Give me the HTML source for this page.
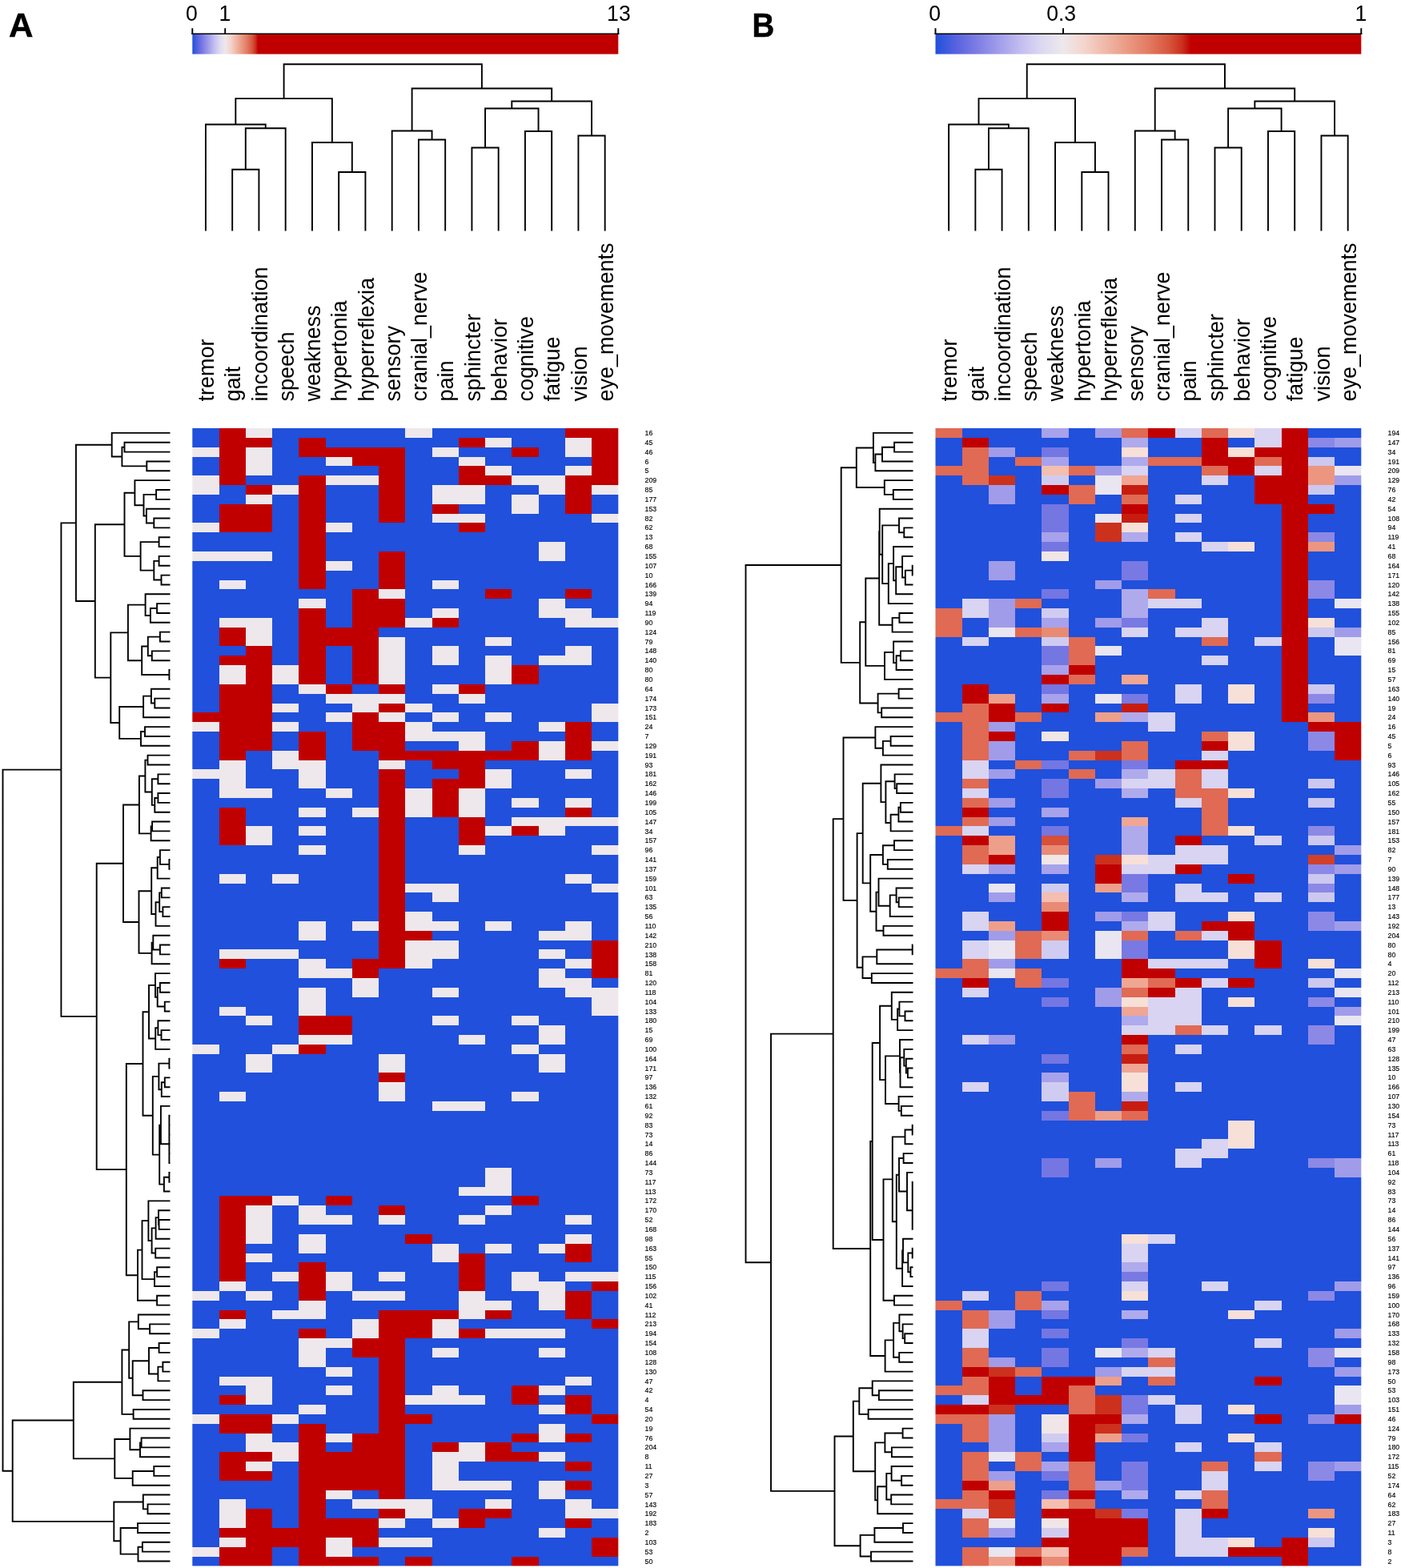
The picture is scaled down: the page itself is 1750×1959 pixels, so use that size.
<!DOCTYPE html>
<html lang="en">
<head>
<meta charset="utf-8">
<title>Clustered symptom heatmaps</title>
<style>
html,body{margin:0;padding:0;background:#fff;}
body{width:1750px;height:1959px;overflow:hidden;}
svg{display:block;font-family:"Liberation Sans",sans-serif;}
</style>
</head>
<body>
<svg width="1750" height="1959" viewBox="0 0 1750 1959">
<rect width="1750" height="1959" fill="#fff"/>
<text x="11" y="46.2" font-size="42.2" font-weight="bold" fill="#000" stroke="#000" stroke-width="0.5">A</text>
<text x="939.4" y="46.2" font-size="42" font-weight="bold" fill="#000" stroke="#000" stroke-width="0.5" textLength="27.8" lengthAdjust="spacingAndGlyphs">B</text>
<defs><linearGradient id="ga" x1="0" x2="1" y1="0" y2="0">
<stop offset="0.0000" stop-color="#2050dc"/>
<stop offset="0.0131" stop-color="#5a64e0"/>
<stop offset="0.0254" stop-color="#7e7ee4"/>
<stop offset="0.0385" stop-color="#a29eea"/>
<stop offset="0.0515" stop-color="#c4bef0"/>
<stop offset="0.0638" stop-color="#dcd8f2"/>
<stop offset="0.0769" stop-color="#eee8ec"/>
<stop offset="0.0900" stop-color="#f4d4cc"/>
<stop offset="0.1023" stop-color="#f0b8a8"/>
<stop offset="0.1154" stop-color="#ea9a84"/>
<stop offset="0.1285" stop-color="#e27a62"/>
<stop offset="0.1408" stop-color="#d6553d"/>
<stop offset="0.1485" stop-color="#ca301e"/>
<stop offset="0.1538" stop-color="#c00000"/>
<stop offset="1.0000" stop-color="#c00000"/>
</linearGradient></defs>
<rect x="240.3" y="42.6" width="532" height="25" fill="url(#ga)"/>
<path d="M239.3 42.2H773.3" fill="none" stroke="#000" stroke-width="1.4"/>
<path d="M240.3 35.2V42.9M281.22 35.2V42.9M772.3 35.2V42.9" fill="none" stroke="#000" stroke-width="1.9"/>
<g font-size="26.6" fill="#000" text-anchor="middle">
<text transform="translate(239.5,25.5) scale(1,1.04)">0</text>
<text transform="translate(280.82,25.5) scale(1,1.04)">1</text>
<text transform="translate(772.9,25.5) scale(1,1.04)">13</text>
</g>
<defs><linearGradient id="gb" x1="0" x2="1" y1="0" y2="0">
<stop offset="0.0000" stop-color="#2050dc"/>
<stop offset="0.0510" stop-color="#5a64e0"/>
<stop offset="0.0990" stop-color="#7e7ee4"/>
<stop offset="0.1500" stop-color="#a29eea"/>
<stop offset="0.2010" stop-color="#c4bef0"/>
<stop offset="0.2490" stop-color="#dcd8f2"/>
<stop offset="0.3000" stop-color="#eee8ec"/>
<stop offset="0.3510" stop-color="#f4d4cc"/>
<stop offset="0.3990" stop-color="#f0b8a8"/>
<stop offset="0.4500" stop-color="#ea9a84"/>
<stop offset="0.5010" stop-color="#e27a62"/>
<stop offset="0.5490" stop-color="#d6553d"/>
<stop offset="0.5790" stop-color="#ca301e"/>
<stop offset="0.6000" stop-color="#c00000"/>
<stop offset="1.0000" stop-color="#c00000"/>
</linearGradient></defs>
<rect x="1168.5" y="42.6" width="531.8" height="25" fill="url(#gb)"/>
<path d="M1167.5 42.2H1701.3" fill="none" stroke="#000" stroke-width="1.4"/>
<path d="M1168.5 35.2V42.9M1328.04 35.2V42.9M1700.3 35.2V42.9" fill="none" stroke="#000" stroke-width="1.9"/>
<g font-size="26.6" fill="#000" text-anchor="middle">
<text transform="translate(1167.7,25.5) scale(1,1.04)">0</text>
<text transform="translate(1325.64,25.5) scale(1,1.04)">0.3</text>
<text transform="translate(1699.9,25.5) scale(1,1.04)">1</text>
</g>
<path d="M290.18 288.5V211.7H323.43V288.5M306.8 211.7V160.3H356.68V288.5M256.93 288.5V155.5H331.74V160.3M423.18 288.5V215H456.43V288.5M389.93 288.5V178H439.8V215M294.33 155.5V123.1H414.86V178M522.92 288.5V174.5H556.17V288.5M489.68 288.5V163.5H539.55V174.5M589.42 288.5V184.5H622.67V288.5M655.92 288.5V164H689.17V288.5M606.05 184.5V135.5H672.55V164M722.42 288.5V169.5H755.67V288.5M639.3 135.5V126.5H739.05V169.5M514.61 163.5V110.5H689.17V126.5M354.6 123.1V80.3H601.89V110.5" fill="none" stroke="#000" stroke-width="1.9" stroke-linejoin="miter"/>
<path d="M1218.36 288.5V211.7H1251.59V288.5M1234.97 211.7V160.3H1284.83V288.5M1185.12 288.5V155.5H1259.9V160.3M1351.31 288.5V215H1384.54V288.5M1318.07 288.5V178H1367.93V215M1222.51 155.5V123.1H1343V178M1451.02 288.5V174.5H1484.26V288.5M1417.78 288.5V163.5H1467.64V174.5M1517.49 288.5V184.5H1550.73V288.5M1583.97 288.5V164H1617.21V288.5M1534.11 184.5V135.5H1600.59V164M1650.44 288.5V169.5H1683.68V288.5M1567.35 135.5V126.5H1667.06V169.5M1442.71 163.5V110.5H1617.21V126.5M1282.75 123.1V80.3H1529.96V110.5" fill="none" stroke="#000" stroke-width="1.9" stroke-linejoin="miter"/>
<g font-size="27" fill="#000">
<text transform="translate(267.12,501.4) rotate(-90) scale(1,1.03)">tremor</text>
<text transform="translate(300.38,501.4) rotate(-90) scale(1,1.03)">gait</text>
<text transform="translate(333.62,501.4) rotate(-90) scale(1,1.03)">incoordination</text>
<text transform="translate(366.88,501.4) rotate(-90) scale(1,1.03)">speech</text>
<text transform="translate(400.12,501.4) rotate(-90) scale(1,1.03)">weakness</text>
<text transform="translate(433.38,501.4) rotate(-90) scale(1,1.03)">hypertonia</text>
<text transform="translate(466.62,501.4) rotate(-90) scale(1,1.03)">hyperreflexia</text>
<text transform="translate(499.88,501.4) rotate(-90) scale(1,1.03)">sensory</text>
<text transform="translate(533.12,501.4) rotate(-90) scale(1,1.03)">cranial_nerve</text>
<text transform="translate(566.38,501.4) rotate(-90) scale(1,1.03)">pain</text>
<text transform="translate(599.62,501.4) rotate(-90) scale(1,1.03)">sphincter</text>
<text transform="translate(632.88,501.4) rotate(-90) scale(1,1.03)">behavior</text>
<text transform="translate(666.12,501.4) rotate(-90) scale(1,1.03)">cognitive</text>
<text transform="translate(699.38,501.4) rotate(-90) scale(1,1.03)">fatigue</text>
<text transform="translate(732.62,501.4) rotate(-90) scale(1,1.03)">vision</text>
<text transform="translate(765.88,501.4) rotate(-90) scale(1,1.03)">eye_movements</text>
</g>
<g font-size="27" fill="#000">
<text transform="translate(1195.32,501.4) rotate(-90) scale(1,1.03)">tremor</text>
<text transform="translate(1228.56,501.4) rotate(-90) scale(1,1.03)">gait</text>
<text transform="translate(1261.79,501.4) rotate(-90) scale(1,1.03)">incoordination</text>
<text transform="translate(1295.03,501.4) rotate(-90) scale(1,1.03)">speech</text>
<text transform="translate(1328.27,501.4) rotate(-90) scale(1,1.03)">weakness</text>
<text transform="translate(1361.51,501.4) rotate(-90) scale(1,1.03)">hypertonia</text>
<text transform="translate(1394.74,501.4) rotate(-90) scale(1,1.03)">hyperreflexia</text>
<text transform="translate(1427.98,501.4) rotate(-90) scale(1,1.03)">sensory</text>
<text transform="translate(1461.22,501.4) rotate(-90) scale(1,1.03)">cranial_nerve</text>
<text transform="translate(1494.46,501.4) rotate(-90) scale(1,1.03)">pain</text>
<text transform="translate(1527.69,501.4) rotate(-90) scale(1,1.03)">sphincter</text>
<text transform="translate(1560.93,501.4) rotate(-90) scale(1,1.03)">behavior</text>
<text transform="translate(1594.17,501.4) rotate(-90) scale(1,1.03)">cognitive</text>
<text transform="translate(1627.41,501.4) rotate(-90) scale(1,1.03)">fatigue</text>
<text transform="translate(1660.64,501.4) rotate(-90) scale(1,1.03)">vision</text>
<text transform="translate(1693.88,501.4) rotate(-90) scale(1,1.03)">eye_movements</text>
</g>
<path d="M212.5 576.46H183.3V588.3H212.5M212.5 552.77H155.5V564.61H212.5M212.5 611.99H195.1V623.84H212.5M212.5 647.53H192.3V659.37H212.5M212.5 671.22H198.6V683.06H212.5M212.5 694.91H198.6V706.75H212.5M212.5 718.6H201.5V730.44H212.5M212.5 754.13H196.1V765.98H212.5M212.5 789.67H199.9V801.51H212.5M212.5 813.36H189.8V825.2H212.5M212.5 837.05H211.4V848.89H212.5M212.5 872.58H193.3V884.43H212.5M212.5 908.12H181V919.96H212.5M212.5 943.65H184.5V955.5H212.5M212.5 967.34H197.4V979.19H212.5M212.5 991.03H197.4V1002.88H212.5M212.5 1026.57H190.1V1038.41H212.5M212.5 1073.95H211.4V1085.79H212.5M212.5 1109.48H201.8V1121.33H212.5M212.5 1133.17H203.4V1145.02H212.5M212.5 1180.55H199.9V1192.4H212.5M212.5 1227.93H199.9V1239.78H212.5M212.5 1251.62H205.8V1263.47H212.5M212.5 1287.16H201.5V1299H212.5M212.5 1322.69H211.4V1334.54H212.5M212.5 1346.38H205.8V1358.23H212.5M212.5 1393.76H211.4V1405.61H212.5M212.5 1417.45H211.4V1429.3H212.5M212.5 1441.14H211.4V1452.99H212.5M212.5 1464.83H211.4V1476.68H212.5M212.5 1524.06H198.6V1535.9H212.5M212.5 1559.59H194.2V1571.44H212.5M212.5 1583.28H196.1V1595.13H212.5M212.5 1618.82H196.1V1630.66H212.5M212.5 1654.35H187.1V1666.2H212.5M212.5 1678.04H198.6V1689.89H212.5M212.5 1701.73H203.4V1713.58H212.5M212.5 1737.27H178.5V1749.11H212.5M212.5 1760.96H166.6V1772.8H212.5M212.5 1796.49H176.6V1808.34H212.5M212.5 1832.03H192.3V1843.87H212.5M212.5 1879.41H184.5V1891.25H212.5M212.5 1903.1H172V1914.94H212.5M212.5 1926.79H177.9V1938.63H212.5M212.5 635.68H182.9V653.45H192.3M196.1 760.06H187.9V777.82H212.5M212.5 860.74H188.9V878.5H193.3M181 914.04H176V931.81H212.5M197.4 996.96H193.3V1014.72H212.5M190.1 1032.49H188.6V1050.26H212.5M212.5 1062.1H199.9V1079.87H211.4M212.5 1168.71H191.3V1186.47H199.9M212.5 1275.31H197.4V1293.08H201.5M205.8 1352.31H201.8V1370.07H212.5M211.4 1470.76H204.9V1488.52H212.5M212.5 1512.21H198V1529.98H198.6M196.1 1589.2H193V1606.97H212.5M212.5 1642.51H172.8V1660.28H187.1M203.4 1707.66H197.4V1725.42H212.5M176.6 1802.41H175V1820.18H212.5M192.3 1837.95H165.7V1855.72H212.5M212.5 1867.56H178.8V1885.33H184.5M177.9 1932.71H172.5V1950.48H212.5M155.5 558.69H152.4V582.38H183.3M198.6 700.83H192.3V724.52H201.5M212.5 742.29H181.6V768.94H187.9M199.9 795.59H184.8V819.28H189.8M188.9 869.62H179.1V896.27H212.5M199.9 1070.99H196.7V1097.64H212.5M201.8 1115.4H199.2V1139.1H203.4M191.3 1177.59H189.6V1204.24H212.5M199.9 1233.86H196.7V1257.55H205.8M197.4 1284.2H194.2V1310.85H212.5M211.4 1399.68H211.4V1423.38H211.4M198 1521.1H194.6V1547.75H212.5M212.5 1784.65H162.4V1811.3H175M212.5 540.92H139.7V570.54H152.4M195.1 617.91H179.5V644.57H182.9M197.4 973.26H189.8V1005.84H193.3M199.2 1127.25H194.5V1156.86H212.5M212.5 1216.09H194V1245.7H196.7M211.4 1328.62H198.4V1361.19H201.8M198.6 1683.97H186V1716.54H197.4M172 1909.02H150.6V1941.59H172.5M212.5 600.15H168.4V631.24H179.5M198.6 677.14H175.6V712.67H192.3M184.8 807.44H177.2V842.97H211.4M211.4 1411.53H211.4V1447.07H211.4M194.6 1534.42H189.6V1565.51H194.2M179.1 882.95H149.2V922.92H176M184.5 949.58H181.4V989.55H189.8M212.5 1381.92H200.9V1429.3H211.4M212.5 1500.37H185.4V1549.97H189.6M186 1700.25H165.7V1743.19H178.5M162.4 1797.97H143.3V1846.83H165.7M178.8 1876.45H142.3V1925.31H150.6M196.7 1084.31H189.2V1142.06H194.5M194 1230.89H186V1297.52H194.2M181.6 755.61H159.9V825.2H177.2M181.4 969.56H173.9V1041.37H188.6M200.9 1405.61H199.2V1479.64H204.9M185.4 1525.17H177.5V1598.09H193M172.8 1651.39H161.2V1721.72H165.7M168.4 615.69H155.5V694.91H175.6M177.5 1561.63H172V1624.74H196.1M161.2 1686.56H152.4V1766.88H166.6M189.2 1113.18H173.5V1190.92H189.6M198.4 1344.9H190.8V1442.62H199.2M159.9 790.41H138.3V902.94H149.2M152.4 1726.72H91.8V1822.4H143.3M173.9 1005.47H154V1152.05H173.5M186 1264.21H178.5V1393.76H190.8M91.8 1774.56H15.7V1900.88H142.3M155.5 655.3H118.8V846.67H138.3M139.7 555.73H94.9V750.99H118.8M178.5 1328.99H157.8V1593.18H172M154 1078.76H120.7V1461.08H157.8M94.9 653.36H76.4V1269.92H120.7M76.4 961.64H3.5V1837.72H15.7" fill="none" stroke="#000" stroke-width="1.9"/>
<path d="M1140.5 552.77H1117.1V564.61H1140.5M1140.5 611.99H1115.8V623.84H1140.5M1140.5 659.37H1129.3V671.22H1140.5M1140.5 706.75H1139.7V718.6H1140.5M1140.5 765.98H1123.4V777.82H1140.5M1140.5 813.36H1124.9V825.2H1140.5M1140.5 860.74H1122.6V872.58H1140.5M1140.5 884.43H1101.2V896.27H1140.5M1140.5 919.96H1112.6V931.81H1140.5M1140.5 979.19H1120.2V991.03H1140.5M1140.5 1002.88H1124.9V1014.72H1140.5M1140.5 1050.26H1117V1062.1H1140.5M1140.5 1073.95H1108.8V1085.79H1140.5M1140.5 1121.33H1122.7V1133.17H1140.5M1140.5 1156.86H1103.5V1168.71H1140.5M1140.5 1180.55H1139.7V1192.4H1140.5M1140.5 1216.09H1088.8V1227.93H1140.5M1140.5 1263.47H1130.5V1275.31H1140.5M1140.5 1334.54H1133.9V1346.38H1140.5M1140.5 1381.92H1125.8V1393.76H1140.5M1140.5 1405.61H1139.7V1417.45H1140.5M1140.5 1441.14H1128.6V1452.99H1140.5M1140.5 1476.68H1139.7V1488.52H1140.5M1140.5 1500.37H1139.7V1512.21H1140.5M1140.5 1524.06H1139.7V1535.9H1140.5M1140.5 1559.59H1139.7V1571.44H1140.5M1140.5 1583.28H1137.4V1595.13H1140.5M1140.5 1618.82H1117V1630.66H1140.5M1140.5 1666.2H1130.2V1678.04H1140.5M1140.5 1689.89H1123.2V1701.73H1140.5M1140.5 1737.27H1097.9V1749.11H1140.5M1140.5 1760.96H1084.6V1772.8H1140.5M1140.5 1784.65H1127.6V1796.49H1140.5M1140.5 1808.34H1113.9V1820.18H1140.5M1140.5 1843.87H1126.1V1855.72H1140.5M1140.5 1867.56H1113.2V1879.41H1140.5M1140.5 1903.1H1128V1914.94H1140.5M1140.5 1938.63H1088V1950.48H1140.5M1117.1 558.69H1102V576.46H1140.5M1140.5 600.15H1104.8V617.91H1115.8M1140.5 647.53H1123V665.29H1129.3M1139.7 712.67H1130.8V730.44H1140.5M1123.4 771.9H1114.6V789.67H1140.5M1124.9 819.28H1119.6V837.05H1140.5M1112.6 925.88H1102.9V943.65H1140.5M1140.5 967.34H1117.6V985.11H1120.2M1124.9 1008.8H1122.4V1026.57H1140.5M1140.5 1109.48H1119.6V1127.25H1122.7M1139.7 1186.47H1095.3V1204.24H1140.5M1140.5 1251.62H1123.4V1269.39H1130.5M1140.5 1322.69H1131.8V1340.46H1133.9M1140.5 1370.07H1122.6V1387.84H1125.8M1139.7 1411.53H1130.5V1429.3H1140.5M1140.5 1654.35H1127.6V1672.12H1130.2M1140.5 1725.42H1089.7V1743.19H1097.9M1140.5 1832.03H1113.6V1849.8H1126.1M1128 1909.02H1092.4V1926.79H1140.5M1102 567.57H1093.4V588.3H1140.5M1140.5 694.91H1127.1V721.56H1130.8M1140.5 801.51H1116.1V828.16H1119.6M1122.6 866.66H1096.6V890.35H1101.2M1140.5 908.12H1093.4V934.77H1102.9M1122.4 1017.68H1112.6V1038.41H1140.5M1117 1056.18H1102.9V1079.87H1108.8M1119.6 1118.37H1111.7V1145.02H1140.5M1123.4 1260.51H1121.1V1287.16H1140.5M1140.5 1310.85H1129.3V1331.58H1131.8M1139.7 1482.6H1139.7V1506.29H1139.7M1139.7 1565.51H1134.3V1589.2H1137.4M1140.5 1642.51H1123.4V1663.24H1127.6M1127.6 1790.57H1105.4V1814.26H1113.9M1140.5 540.92H1090.9V577.94H1093.4M1127.1 708.23H1119.2V742.29H1140.5M1116.1 814.84H1105V848.89H1140.5M1140.5 1097.64H1097.5V1131.69H1111.7M1095.3 1195.36H1077.5V1222.01H1088.8M1140.5 1239.78H1113.8V1273.83H1121.1M1129.3 1321.21H1124.5V1358.23H1140.5M1140.5 1547.75H1128V1577.36H1134.3M1089.7 1734.31H1073.3V1766.88H1084.6M1113.6 1840.91H1107.3V1873.49H1113.2M1092.4 1917.9H1074.6V1944.56H1088M1140.5 683.06H1116.1V725.26H1119.2M1140.5 1299H1124V1339.72H1124.5M1139.7 1494.44H1139.7V1529.98H1139.7M1128 1562.55H1127.1V1606.97H1140.5M1123.4 1652.87H1116.1V1695.81H1123.2M1107.3 1857.2H1096.2V1891.25H1140.5M1116.1 704.16H1109.8V754.13H1140.5M1117.6 976.23H1106.4V1028.05H1112.6M1097.5 1114.66H1094.5V1162.79H1103.5M1140.5 1464.83H1133V1512.21H1139.7M1116.1 1674.34H1105.6V1713.58H1140.5M1090.9 559.43H1069.8V609.03H1104.8M1140.5 955.5H1100.4V1002.14H1106.4M1124 1319.36H1106V1378.96H1122.6M1128.6 1447.07H1123V1488.52H1133M1123 656.41H1102.2V729.15H1109.8M1105.4 1802.42H1093.2V1874.23H1096.2M1140.5 635.68H1098.7V692.78H1102.2M1102.9 1068.03H1087.2V1138.72H1094.5M1098.7 664.23H1098.2V780.78H1114.6M1113.8 1256.8H1099.1V1349.16H1106M1123 1467.79H1119.8V1584.76H1127.1M1073.3 1750.59H1065.8V1838.32H1093.2M1130.5 1420.41H1114.8V1526.28H1119.8M1098.2 722.51H1081.3V831.87H1105M1100.4 978.82H1077.7V1103.37H1087.2M1114.8 1473.35H1103.5V1624.74H1117M1065.8 1794.46H1042.5V1931.23H1074.6M1081.3 777.19H1074.2V878.5H1096.6M1077.7 1041.1H1070.6V1208.68H1077.5M1093.4 921.44H1053.5V1124.89H1070.6M1069.8 584.23H1050.7V827.85H1074.2M1099.1 1302.98H1089.7V1549.04H1103.5M1089.7 1426.01H1087.2V1693.96H1105.6M1053.5 1023.17H1040.7V1559.99H1087.2M1040.7 1291.58H963V1862.84H1042.5M1050.7 706.04H931.5V1577.21H963" fill="none" stroke="#000" stroke-width="1.9"/>
<g>
<rect x="241" y="535" width="531" height="1421" fill="#2050dc"/>
<rect x="240.3" y="535" width="33.7" height="24" fill="#2050dc"/>
<rect x="274" y="535" width="33" height="71" fill="#c00000"/>
<rect x="307" y="535" width="33" height="12" fill="#eee8ec"/>
<rect x="340" y="535" width="166" height="12" fill="#2050dc"/>
<rect x="506" y="535" width="34" height="12" fill="#eee8ec"/>
<rect x="540" y="535" width="166" height="12" fill="#2050dc"/>
<rect x="706" y="535" width="66.3" height="12" fill="#c00000"/>
<rect x="307" y="547" width="33" height="12" fill="#c00000"/>
<rect x="373" y="547" width="34" height="24" fill="#c00000"/>
<rect x="573" y="547" width="33" height="12" fill="#c00000"/>
<rect x="606" y="547" width="33" height="12" fill="#eee8ec"/>
<rect x="706" y="547" width="33" height="24" fill="#eee8ec"/>
<rect x="739" y="547" width="33.3" height="59" fill="#c00000"/>
<rect x="240.3" y="559" width="33.7" height="12" fill="#eee8ec"/>
<rect x="307" y="559" width="33" height="35" fill="#eee8ec"/>
<rect x="407" y="559" width="99" height="12" fill="#c00000"/>
<rect x="540" y="559" width="33" height="12" fill="#eee8ec"/>
<rect x="639" y="559" width="34" height="12" fill="#c00000"/>
<rect x="240.3" y="571" width="33.7" height="23" fill="#2050dc"/>
<rect x="407" y="571" width="33" height="11" fill="#eee8ec"/>
<rect x="440" y="571" width="66" height="11" fill="#c00000"/>
<rect x="573" y="571" width="33" height="11" fill="#eee8ec"/>
<rect x="473" y="582" width="33" height="71" fill="#c00000"/>
<rect x="573" y="582" width="33" height="24" fill="#c00000"/>
<rect x="606" y="582" width="33" height="12" fill="#eee8ec"/>
<rect x="706" y="582" width="33" height="12" fill="#eee8ec"/>
<rect x="240.3" y="594" width="33.7" height="24" fill="#eee8ec"/>
<rect x="373" y="594" width="34" height="142" fill="#c00000"/>
<rect x="407" y="594" width="66" height="12" fill="#eee8ec"/>
<rect x="606" y="594" width="33" height="12" fill="#c00000"/>
<rect x="639" y="594" width="67" height="12" fill="#eee8ec"/>
<rect x="706" y="594" width="33" height="48" fill="#c00000"/>
<rect x="307" y="606" width="33" height="12" fill="#c00000"/>
<rect x="340" y="606" width="33" height="12" fill="#eee8ec"/>
<rect x="540" y="606" width="66" height="24" fill="#eee8ec"/>
<rect x="673" y="606" width="33" height="12" fill="#eee8ec"/>
<rect x="739" y="606" width="33.3" height="12" fill="#eee8ec"/>
<rect x="240.3" y="618" width="33.7" height="35" fill="#2050dc"/>
<rect x="307" y="618" width="33" height="12" fill="#eee8ec"/>
<rect x="639" y="618" width="34" height="24" fill="#eee8ec"/>
<rect x="739" y="618" width="33.3" height="24" fill="#2050dc"/>
<rect x="274" y="630" width="66" height="35" fill="#c00000"/>
<rect x="540" y="630" width="33" height="12" fill="#c00000"/>
<rect x="540" y="642" width="66" height="11" fill="#eee8ec"/>
<rect x="739" y="642" width="33.3" height="11" fill="#eee8ec"/>
<rect x="240.3" y="653" width="33.7" height="12" fill="#eee8ec"/>
<rect x="407" y="653" width="33" height="12" fill="#eee8ec"/>
<rect x="573" y="653" width="33" height="12" fill="#c00000"/>
<rect x="739" y="653" width="33.3" height="119" fill="#2050dc"/>
<rect x="240.3" y="665" width="33.7" height="24" fill="#2050dc"/>
<rect x="673" y="677" width="33" height="24" fill="#eee8ec"/>
<rect x="240.3" y="689" width="99.7" height="12" fill="#eee8ec"/>
<rect x="473" y="689" width="33" height="47" fill="#c00000"/>
<rect x="240.3" y="701" width="33.7" height="189" fill="#2050dc"/>
<rect x="407" y="701" width="33" height="12" fill="#eee8ec"/>
<rect x="274" y="725" width="33" height="11" fill="#eee8ec"/>
<rect x="540" y="725" width="33" height="11" fill="#eee8ec"/>
<rect x="440" y="736" width="33" height="119" fill="#c00000"/>
<rect x="473" y="736" width="33" height="12" fill="#eee8ec"/>
<rect x="606" y="736" width="33" height="12" fill="#c00000"/>
<rect x="706" y="736" width="33" height="12" fill="#c00000"/>
<rect x="373" y="748" width="34" height="12" fill="#eee8ec"/>
<rect x="473" y="748" width="33" height="36" fill="#c00000"/>
<rect x="673" y="748" width="33" height="24" fill="#eee8ec"/>
<rect x="373" y="760" width="34" height="95" fill="#c00000"/>
<rect x="540" y="760" width="33" height="12" fill="#eee8ec"/>
<rect x="706" y="760" width="33" height="24" fill="#eee8ec"/>
<rect x="274" y="772" width="66" height="12" fill="#eee8ec"/>
<rect x="506" y="772" width="34" height="12" fill="#eee8ec"/>
<rect x="540" y="772" width="33" height="12" fill="#c00000"/>
<rect x="739" y="772" width="33.3" height="12" fill="#eee8ec"/>
<rect x="274" y="784" width="33" height="23" fill="#c00000"/>
<rect x="307" y="784" width="33" height="23" fill="#eee8ec"/>
<rect x="407" y="784" width="33" height="23" fill="#c00000"/>
<rect x="739" y="784" width="33.3" height="95" fill="#2050dc"/>
<rect x="473" y="796" width="33" height="59" fill="#eee8ec"/>
<rect x="606" y="796" width="33" height="11" fill="#eee8ec"/>
<rect x="307" y="807" width="33" height="131" fill="#c00000"/>
<rect x="540" y="807" width="33" height="24" fill="#eee8ec"/>
<rect x="706" y="807" width="33" height="24" fill="#eee8ec"/>
<rect x="274" y="819" width="33" height="12" fill="#c00000"/>
<rect x="606" y="819" width="33" height="36" fill="#eee8ec"/>
<rect x="673" y="819" width="33" height="12" fill="#eee8ec"/>
<rect x="274" y="831" width="33" height="24" fill="#eee8ec"/>
<rect x="340" y="831" width="33" height="24" fill="#eee8ec"/>
<rect x="639" y="831" width="34" height="24" fill="#c00000"/>
<rect x="274" y="855" width="33" height="95" fill="#c00000"/>
<rect x="373" y="855" width="34" height="12" fill="#eee8ec"/>
<rect x="407" y="855" width="33" height="12" fill="#c00000"/>
<rect x="473" y="855" width="33" height="12" fill="#c00000"/>
<rect x="540" y="855" width="33" height="12" fill="#eee8ec"/>
<rect x="573" y="855" width="33" height="12" fill="#c00000"/>
<rect x="407" y="867" width="99" height="12" fill="#eee8ec"/>
<rect x="573" y="867" width="33" height="12" fill="#eee8ec"/>
<rect x="340" y="879" width="33" height="11" fill="#eee8ec"/>
<rect x="440" y="879" width="33" height="11" fill="#eee8ec"/>
<rect x="473" y="879" width="33" height="11" fill="#c00000"/>
<rect x="506" y="879" width="34" height="11" fill="#eee8ec"/>
<rect x="739" y="879" width="33.3" height="23" fill="#eee8ec"/>
<rect x="240.3" y="890" width="33.7" height="12" fill="#c00000"/>
<rect x="407" y="890" width="33" height="12" fill="#eee8ec"/>
<rect x="440" y="890" width="33" height="48" fill="#c00000"/>
<rect x="473" y="890" width="33" height="12" fill="#eee8ec"/>
<rect x="540" y="890" width="33" height="12" fill="#eee8ec"/>
<rect x="606" y="890" width="33" height="12" fill="#eee8ec"/>
<rect x="240.3" y="902" width="33.7" height="12" fill="#eee8ec"/>
<rect x="340" y="902" width="33" height="12" fill="#eee8ec"/>
<rect x="473" y="902" width="33" height="48" fill="#c00000"/>
<rect x="506" y="902" width="34" height="24" fill="#eee8ec"/>
<rect x="673" y="902" width="33" height="12" fill="#eee8ec"/>
<rect x="706" y="902" width="33" height="48" fill="#c00000"/>
<rect x="739" y="902" width="33.3" height="24" fill="#2050dc"/>
<rect x="240.3" y="914" width="33.7" height="47" fill="#2050dc"/>
<rect x="373" y="914" width="34" height="36" fill="#c00000"/>
<rect x="540" y="914" width="66" height="12" fill="#eee8ec"/>
<rect x="573" y="926" width="33" height="12" fill="#eee8ec"/>
<rect x="639" y="926" width="34" height="24" fill="#c00000"/>
<rect x="673" y="926" width="33" height="24" fill="#eee8ec"/>
<rect x="739" y="926" width="33.3" height="12" fill="#eee8ec"/>
<rect x="340" y="938" width="33" height="23" fill="#eee8ec"/>
<rect x="506" y="938" width="133" height="12" fill="#c00000"/>
<rect x="739" y="938" width="33.3" height="83" fill="#2050dc"/>
<rect x="274" y="950" width="33" height="47" fill="#eee8ec"/>
<rect x="373" y="950" width="34" height="35" fill="#eee8ec"/>
<rect x="473" y="950" width="33" height="11" fill="#eee8ec"/>
<rect x="540" y="950" width="66" height="11" fill="#c00000"/>
<rect x="240.3" y="961" width="33.7" height="12" fill="#eee8ec"/>
<rect x="473" y="961" width="33" height="249" fill="#c00000"/>
<rect x="573" y="961" width="33" height="24" fill="#c00000"/>
<rect x="606" y="961" width="33" height="24" fill="#eee8ec"/>
<rect x="706" y="961" width="33" height="12" fill="#eee8ec"/>
<rect x="240.3" y="973" width="33.7" height="332" fill="#2050dc"/>
<rect x="540" y="973" width="33" height="48" fill="#c00000"/>
<rect x="307" y="985" width="33" height="12" fill="#eee8ec"/>
<rect x="407" y="985" width="33" height="12" fill="#eee8ec"/>
<rect x="506" y="985" width="34" height="36" fill="#eee8ec"/>
<rect x="573" y="985" width="33" height="36" fill="#eee8ec"/>
<rect x="639" y="997" width="34" height="12" fill="#eee8ec"/>
<rect x="706" y="997" width="33" height="12" fill="#eee8ec"/>
<rect x="274" y="1009" width="33" height="47" fill="#c00000"/>
<rect x="373" y="1009" width="34" height="12" fill="#eee8ec"/>
<rect x="440" y="1009" width="33" height="12" fill="#eee8ec"/>
<rect x="706" y="1009" width="33" height="12" fill="#c00000"/>
<rect x="573" y="1021" width="33" height="35" fill="#c00000"/>
<rect x="639" y="1021" width="133.3" height="11" fill="#eee8ec"/>
<rect x="307" y="1032" width="33" height="24" fill="#eee8ec"/>
<rect x="373" y="1032" width="34" height="12" fill="#eee8ec"/>
<rect x="606" y="1032" width="33" height="12" fill="#eee8ec"/>
<rect x="639" y="1032" width="34" height="12" fill="#c00000"/>
<rect x="673" y="1032" width="33" height="12" fill="#eee8ec"/>
<rect x="739" y="1032" width="33.3" height="24" fill="#2050dc"/>
<rect x="373" y="1056" width="34" height="12" fill="#eee8ec"/>
<rect x="573" y="1056" width="33" height="12" fill="#eee8ec"/>
<rect x="739" y="1056" width="33.3" height="12" fill="#eee8ec"/>
<rect x="739" y="1068" width="33.3" height="36" fill="#2050dc"/>
<rect x="274" y="1092" width="33" height="12" fill="#eee8ec"/>
<rect x="340" y="1092" width="33" height="12" fill="#eee8ec"/>
<rect x="706" y="1092" width="33" height="12" fill="#eee8ec"/>
<rect x="506" y="1104" width="67" height="11" fill="#eee8ec"/>
<rect x="739" y="1104" width="33.3" height="11" fill="#eee8ec"/>
<rect x="540" y="1115" width="33" height="12" fill="#eee8ec"/>
<rect x="739" y="1115" width="33.3" height="60" fill="#2050dc"/>
<rect x="506" y="1139" width="34" height="24" fill="#eee8ec"/>
<rect x="373" y="1151" width="34" height="24" fill="#eee8ec"/>
<rect x="440" y="1151" width="33" height="12" fill="#eee8ec"/>
<rect x="540" y="1151" width="33" height="12" fill="#eee8ec"/>
<rect x="606" y="1151" width="33" height="12" fill="#eee8ec"/>
<rect x="706" y="1151" width="33" height="24" fill="#eee8ec"/>
<rect x="506" y="1163" width="34" height="12" fill="#c00000"/>
<rect x="673" y="1163" width="33" height="12" fill="#eee8ec"/>
<rect x="506" y="1175" width="67" height="23" fill="#eee8ec"/>
<rect x="739" y="1175" width="33.3" height="47" fill="#c00000"/>
<rect x="274" y="1186" width="99" height="12" fill="#eee8ec"/>
<rect x="673" y="1186" width="33" height="12" fill="#eee8ec"/>
<rect x="274" y="1198" width="33" height="12" fill="#c00000"/>
<rect x="373" y="1198" width="34" height="24" fill="#eee8ec"/>
<rect x="440" y="1198" width="33" height="24" fill="#c00000"/>
<rect x="506" y="1198" width="34" height="12" fill="#eee8ec"/>
<rect x="706" y="1198" width="33" height="12" fill="#eee8ec"/>
<rect x="407" y="1210" width="33" height="12" fill="#eee8ec"/>
<rect x="673" y="1210" width="33" height="24" fill="#eee8ec"/>
<rect x="440" y="1222" width="33" height="24" fill="#eee8ec"/>
<rect x="706" y="1222" width="33" height="24" fill="#eee8ec"/>
<rect x="739" y="1222" width="33.3" height="12" fill="#2050dc"/>
<rect x="373" y="1234" width="34" height="35" fill="#eee8ec"/>
<rect x="540" y="1234" width="33" height="12" fill="#eee8ec"/>
<rect x="739" y="1234" width="33.3" height="35" fill="#eee8ec"/>
<rect x="274" y="1258" width="33" height="11" fill="#eee8ec"/>
<rect x="307" y="1269" width="33" height="12" fill="#eee8ec"/>
<rect x="373" y="1269" width="67" height="24" fill="#c00000"/>
<rect x="540" y="1269" width="33" height="12" fill="#eee8ec"/>
<rect x="639" y="1269" width="34" height="12" fill="#eee8ec"/>
<rect x="739" y="1269" width="33.3" height="320" fill="#2050dc"/>
<rect x="673" y="1281" width="33" height="24" fill="#eee8ec"/>
<rect x="373" y="1293" width="67" height="12" fill="#eee8ec"/>
<rect x="573" y="1293" width="33" height="12" fill="#eee8ec"/>
<rect x="240.3" y="1305" width="33.7" height="12" fill="#eee8ec"/>
<rect x="340" y="1305" width="33" height="12" fill="#eee8ec"/>
<rect x="373" y="1305" width="34" height="12" fill="#c00000"/>
<rect x="639" y="1305" width="34" height="12" fill="#eee8ec"/>
<rect x="240.3" y="1317" width="33.7" height="296" fill="#2050dc"/>
<rect x="307" y="1317" width="33" height="23" fill="#eee8ec"/>
<rect x="473" y="1317" width="33" height="23" fill="#eee8ec"/>
<rect x="673" y="1317" width="33" height="23" fill="#eee8ec"/>
<rect x="473" y="1340" width="33" height="12" fill="#c00000"/>
<rect x="473" y="1352" width="33" height="24" fill="#eee8ec"/>
<rect x="274" y="1364" width="33" height="12" fill="#eee8ec"/>
<rect x="639" y="1364" width="34" height="12" fill="#eee8ec"/>
<rect x="540" y="1376" width="66" height="12" fill="#eee8ec"/>
<rect x="606" y="1459" width="33" height="35" fill="#eee8ec"/>
<rect x="573" y="1483" width="33" height="11" fill="#eee8ec"/>
<rect x="274" y="1494" width="66" height="12" fill="#c00000"/>
<rect x="340" y="1494" width="33" height="12" fill="#eee8ec"/>
<rect x="407" y="1494" width="33" height="12" fill="#c00000"/>
<rect x="639" y="1494" width="34" height="12" fill="#c00000"/>
<rect x="274" y="1506" width="33" height="95" fill="#c00000"/>
<rect x="307" y="1506" width="33" height="48" fill="#eee8ec"/>
<rect x="373" y="1506" width="34" height="24" fill="#eee8ec"/>
<rect x="473" y="1506" width="33" height="12" fill="#c00000"/>
<rect x="606" y="1506" width="33" height="12" fill="#eee8ec"/>
<rect x="407" y="1518" width="33" height="12" fill="#eee8ec"/>
<rect x="473" y="1518" width="33" height="12" fill="#eee8ec"/>
<rect x="573" y="1518" width="33" height="12" fill="#eee8ec"/>
<rect x="706" y="1518" width="33" height="12" fill="#eee8ec"/>
<rect x="373" y="1542" width="34" height="24" fill="#eee8ec"/>
<rect x="506" y="1542" width="34" height="12" fill="#c00000"/>
<rect x="706" y="1542" width="33" height="12" fill="#eee8ec"/>
<rect x="540" y="1554" width="33" height="23" fill="#eee8ec"/>
<rect x="606" y="1554" width="33" height="12" fill="#eee8ec"/>
<rect x="673" y="1554" width="33" height="12" fill="#eee8ec"/>
<rect x="706" y="1554" width="33" height="23" fill="#c00000"/>
<rect x="307" y="1566" width="33" height="11" fill="#eee8ec"/>
<rect x="573" y="1566" width="33" height="47" fill="#c00000"/>
<rect x="373" y="1577" width="34" height="48" fill="#c00000"/>
<rect x="340" y="1589" width="33" height="12" fill="#eee8ec"/>
<rect x="407" y="1589" width="33" height="24" fill="#eee8ec"/>
<rect x="473" y="1589" width="33" height="12" fill="#eee8ec"/>
<rect x="639" y="1589" width="34" height="24" fill="#eee8ec"/>
<rect x="706" y="1589" width="66.3" height="12" fill="#eee8ec"/>
<rect x="274" y="1601" width="33" height="12" fill="#eee8ec"/>
<rect x="673" y="1601" width="33" height="36" fill="#eee8ec"/>
<rect x="739" y="1601" width="33.3" height="12" fill="#c00000"/>
<rect x="240.3" y="1613" width="33.7" height="12" fill="#eee8ec"/>
<rect x="307" y="1613" width="33" height="12" fill="#eee8ec"/>
<rect x="440" y="1613" width="66" height="12" fill="#eee8ec"/>
<rect x="573" y="1613" width="33" height="35" fill="#eee8ec"/>
<rect x="706" y="1613" width="33" height="35" fill="#c00000"/>
<rect x="739" y="1613" width="33.3" height="35" fill="#2050dc"/>
<rect x="240.3" y="1625" width="33.7" height="35" fill="#2050dc"/>
<rect x="373" y="1625" width="34" height="23" fill="#eee8ec"/>
<rect x="606" y="1625" width="33" height="12" fill="#eee8ec"/>
<rect x="274" y="1637" width="33" height="11" fill="#c00000"/>
<rect x="340" y="1637" width="33" height="11" fill="#eee8ec"/>
<rect x="473" y="1637" width="100" height="11" fill="#c00000"/>
<rect x="606" y="1637" width="33" height="11" fill="#c00000"/>
<rect x="274" y="1648" width="33" height="12" fill="#eee8ec"/>
<rect x="440" y="1648" width="33" height="24" fill="#eee8ec"/>
<rect x="473" y="1648" width="67" height="24" fill="#c00000"/>
<rect x="540" y="1648" width="33" height="24" fill="#eee8ec"/>
<rect x="739" y="1648" width="33.3" height="12" fill="#c00000"/>
<rect x="240.3" y="1660" width="33.7" height="12" fill="#eee8ec"/>
<rect x="373" y="1660" width="34" height="12" fill="#c00000"/>
<rect x="573" y="1660" width="33" height="12" fill="#c00000"/>
<rect x="606" y="1660" width="100" height="12" fill="#eee8ec"/>
<rect x="739" y="1660" width="33.3" height="107" fill="#2050dc"/>
<rect x="240.3" y="1672" width="33.7" height="95" fill="#2050dc"/>
<rect x="373" y="1672" width="67" height="12" fill="#eee8ec"/>
<rect x="440" y="1672" width="66" height="24" fill="#c00000"/>
<rect x="373" y="1684" width="34" height="24" fill="#eee8ec"/>
<rect x="540" y="1684" width="33" height="12" fill="#eee8ec"/>
<rect x="673" y="1684" width="33" height="12" fill="#eee8ec"/>
<rect x="473" y="1696" width="33" height="177" fill="#c00000"/>
<rect x="407" y="1708" width="33" height="12" fill="#eee8ec"/>
<rect x="274" y="1720" width="66" height="11" fill="#eee8ec"/>
<rect x="706" y="1720" width="33" height="11" fill="#eee8ec"/>
<rect x="307" y="1731" width="33" height="24" fill="#eee8ec"/>
<rect x="407" y="1731" width="33" height="12" fill="#eee8ec"/>
<rect x="540" y="1731" width="33" height="24" fill="#eee8ec"/>
<rect x="639" y="1731" width="34" height="24" fill="#c00000"/>
<rect x="673" y="1731" width="33" height="12" fill="#eee8ec"/>
<rect x="274" y="1743" width="33" height="12" fill="#c00000"/>
<rect x="506" y="1743" width="34" height="12" fill="#eee8ec"/>
<rect x="573" y="1743" width="33" height="12" fill="#eee8ec"/>
<rect x="706" y="1743" width="33" height="24" fill="#c00000"/>
<rect x="373" y="1755" width="34" height="12" fill="#eee8ec"/>
<rect x="673" y="1755" width="33" height="12" fill="#eee8ec"/>
<rect x="240.3" y="1767" width="33.7" height="12" fill="#eee8ec"/>
<rect x="274" y="1767" width="66" height="24" fill="#c00000"/>
<rect x="340" y="1767" width="33" height="12" fill="#eee8ec"/>
<rect x="506" y="1767" width="34" height="12" fill="#c00000"/>
<rect x="739" y="1767" width="33.3" height="12" fill="#c00000"/>
<rect x="240.3" y="1779" width="33.7" height="154" fill="#2050dc"/>
<rect x="373" y="1779" width="34" height="177.4" fill="#c00000"/>
<rect x="673" y="1779" width="33" height="23" fill="#eee8ec"/>
<rect x="739" y="1779" width="33.3" height="106" fill="#2050dc"/>
<rect x="307" y="1791" width="33" height="23" fill="#eee8ec"/>
<rect x="407" y="1791" width="33" height="11" fill="#eee8ec"/>
<rect x="440" y="1791" width="33" height="71" fill="#c00000"/>
<rect x="639" y="1791" width="34" height="11" fill="#c00000"/>
<rect x="706" y="1791" width="33" height="11" fill="#c00000"/>
<rect x="340" y="1802" width="33" height="24" fill="#eee8ec"/>
<rect x="540" y="1802" width="33" height="12" fill="#c00000"/>
<rect x="573" y="1802" width="33" height="24" fill="#eee8ec"/>
<rect x="606" y="1802" width="33" height="24" fill="#c00000"/>
<rect x="274" y="1814" width="66" height="12" fill="#c00000"/>
<rect x="407" y="1814" width="33" height="48" fill="#c00000"/>
<rect x="540" y="1814" width="33" height="48" fill="#eee8ec"/>
<rect x="639" y="1814" width="34" height="12" fill="#c00000"/>
<rect x="673" y="1814" width="33" height="12" fill="#eee8ec"/>
<rect x="274" y="1826" width="33" height="24" fill="#c00000"/>
<rect x="307" y="1826" width="33" height="12" fill="#eee8ec"/>
<rect x="706" y="1826" width="33" height="12" fill="#c00000"/>
<rect x="307" y="1838" width="33" height="12" fill="#c00000"/>
<rect x="573" y="1850" width="66" height="12" fill="#eee8ec"/>
<rect x="673" y="1850" width="33" height="23" fill="#eee8ec"/>
<rect x="706" y="1850" width="33" height="12" fill="#c00000"/>
<rect x="407" y="1862" width="33" height="11" fill="#eee8ec"/>
<rect x="274" y="1873" width="33" height="36" fill="#eee8ec"/>
<rect x="440" y="1873" width="100" height="12" fill="#eee8ec"/>
<rect x="606" y="1873" width="33" height="12" fill="#eee8ec"/>
<rect x="706" y="1873" width="33" height="24" fill="#eee8ec"/>
<rect x="307" y="1885" width="33" height="71.4" fill="#c00000"/>
<rect x="473" y="1885" width="33" height="12" fill="#c00000"/>
<rect x="506" y="1885" width="34" height="12" fill="#eee8ec"/>
<rect x="573" y="1885" width="66" height="12" fill="#c00000"/>
<rect x="739" y="1885" width="33.3" height="12" fill="#eee8ec"/>
<rect x="407" y="1897" width="66" height="24" fill="#c00000"/>
<rect x="473" y="1897" width="33" height="12" fill="#eee8ec"/>
<rect x="540" y="1897" width="33" height="12" fill="#eee8ec"/>
<rect x="573" y="1897" width="33" height="12" fill="#c00000"/>
<rect x="706" y="1897" width="33" height="12" fill="#c00000"/>
<rect x="739" y="1897" width="33.3" height="24" fill="#2050dc"/>
<rect x="274" y="1909" width="33" height="12" fill="#c00000"/>
<rect x="340" y="1909" width="33" height="24" fill="#c00000"/>
<rect x="673" y="1909" width="33" height="12" fill="#eee8ec"/>
<rect x="274" y="1921" width="33" height="12" fill="#eee8ec"/>
<rect x="407" y="1921" width="33" height="24" fill="#eee8ec"/>
<rect x="440" y="1921" width="33" height="12" fill="#c00000"/>
<rect x="473" y="1921" width="67" height="12" fill="#eee8ec"/>
<rect x="739" y="1921" width="33.3" height="24" fill="#c00000"/>
<rect x="240.3" y="1933" width="33.7" height="12" fill="#eee8ec"/>
<rect x="274" y="1933" width="33" height="23.4" fill="#c00000"/>
<rect x="240.3" y="1945" width="33.7" height="11.4" fill="#2050dc"/>
<rect x="340" y="1945" width="33" height="11.4" fill="#2050dc"/>
<rect x="407" y="1945" width="66" height="11.4" fill="#c00000"/>
<rect x="473" y="1945" width="33" height="11.4" fill="#2050dc"/>
<rect x="506" y="1945" width="34" height="11.4" fill="#c00000"/>
<rect x="540" y="1945" width="99" height="11.4" fill="#2050dc"/>
<rect x="639" y="1945" width="34" height="11.4" fill="#c00000"/>
<rect x="673" y="1945" width="99.3" height="11.4" fill="#2050dc"/>
</g>
<g>
<rect x="1169" y="535" width="531" height="1421" fill="#2050dc"/>
<rect x="1168.5" y="535" width="33.5" height="12" fill="#e06a54"/>
<rect x="1202" y="535" width="99" height="12" fill="#2050dc"/>
<rect x="1301" y="535" width="34" height="12" fill="#a7a2eb"/>
<rect x="1335" y="535" width="33" height="12" fill="#2050dc"/>
<rect x="1368" y="535" width="33" height="12" fill="#a09cea"/>
<rect x="1401" y="535" width="33" height="12" fill="#e06a54"/>
<rect x="1434" y="535" width="34" height="12" fill="#c00000"/>
<rect x="1468" y="535" width="33" height="12" fill="#d8d4f2"/>
<rect x="1501" y="535" width="33" height="12" fill="#e06a54"/>
<rect x="1534" y="535" width="33" height="12" fill="#f6e0d8"/>
<rect x="1567" y="535" width="34" height="24" fill="#d8d4f2"/>
<rect x="1601" y="535" width="33" height="367" fill="#c00000"/>
<rect x="1634" y="535" width="66.3" height="12" fill="#2050dc"/>
<rect x="1168.5" y="547" width="33.5" height="35" fill="#2050dc"/>
<rect x="1202" y="547" width="33" height="12" fill="#c00000"/>
<rect x="1401" y="547" width="33" height="12" fill="#afaaec"/>
<rect x="1501" y="547" width="33" height="35" fill="#c00000"/>
<rect x="1634" y="547" width="33" height="12" fill="#8c88e6"/>
<rect x="1667" y="547" width="33.3" height="12" fill="#a09cea"/>
<rect x="1202" y="559" width="33" height="47" fill="#e06a54"/>
<rect x="1235" y="559" width="33" height="12" fill="#a09cea"/>
<rect x="1301" y="559" width="34" height="12" fill="#7476e2"/>
<rect x="1401" y="559" width="33" height="12" fill="#f6e0d8"/>
<rect x="1534" y="559" width="33" height="12" fill="#f6e0d8"/>
<rect x="1567" y="559" width="34" height="12" fill="#c00000"/>
<rect x="1667" y="559" width="33.3" height="23" fill="#2050dc"/>
<rect x="1268" y="571" width="33" height="11" fill="#e06a54"/>
<rect x="1301" y="571" width="34" height="11" fill="#a7a2eb"/>
<rect x="1401" y="571" width="33" height="11" fill="#afaaec"/>
<rect x="1434" y="571" width="67" height="11" fill="#e06a54"/>
<rect x="1534" y="571" width="33" height="23" fill="#c00000"/>
<rect x="1567" y="571" width="34" height="11" fill="#e06a54"/>
<rect x="1634" y="571" width="33" height="11" fill="#ccc8f0"/>
<rect x="1168.5" y="582" width="33.5" height="12" fill="#e06a54"/>
<rect x="1301" y="582" width="34" height="12" fill="#f4beb0"/>
<rect x="1335" y="582" width="33" height="12" fill="#e06a54"/>
<rect x="1368" y="582" width="33" height="12" fill="#a09cea"/>
<rect x="1401" y="582" width="33" height="12" fill="#d8d4f2"/>
<rect x="1501" y="582" width="33" height="12" fill="#e06a54"/>
<rect x="1567" y="582" width="34" height="12" fill="#d8d4f2"/>
<rect x="1634" y="582" width="33" height="24" fill="#ec9681"/>
<rect x="1667" y="582" width="33.3" height="12" fill="#e9e6f1"/>
<rect x="1168.5" y="594" width="33.5" height="166" fill="#2050dc"/>
<rect x="1235" y="594" width="33" height="12" fill="#cc311e"/>
<rect x="1301" y="594" width="34" height="12" fill="#d0ccf1"/>
<rect x="1368" y="594" width="33" height="24" fill="#e9e6f1"/>
<rect x="1401" y="594" width="33" height="12" fill="#f0a693"/>
<rect x="1501" y="594" width="33" height="12" fill="#d8d4f2"/>
<rect x="1567" y="594" width="34" height="36" fill="#c00000"/>
<rect x="1667" y="594" width="33.3" height="12" fill="#a09cea"/>
<rect x="1235" y="606" width="33" height="24" fill="#a09cea"/>
<rect x="1301" y="606" width="34" height="12" fill="#c00000"/>
<rect x="1335" y="606" width="33" height="24" fill="#e06a54"/>
<rect x="1401" y="606" width="33" height="12" fill="#c71d11"/>
<rect x="1634" y="606" width="33" height="12" fill="#ccc8f0"/>
<rect x="1667" y="606" width="33.3" height="142" fill="#2050dc"/>
<rect x="1401" y="618" width="33" height="12" fill="#e06a54"/>
<rect x="1468" y="618" width="33" height="12" fill="#d8d4f2"/>
<rect x="1301" y="630" width="34" height="35" fill="#7476e2"/>
<rect x="1401" y="630" width="33" height="12" fill="#c00000"/>
<rect x="1634" y="630" width="33" height="12" fill="#c00000"/>
<rect x="1368" y="642" width="33" height="11" fill="#e9e6f1"/>
<rect x="1401" y="642" width="33" height="11" fill="#c71d11"/>
<rect x="1468" y="642" width="33" height="11" fill="#d8d4f2"/>
<rect x="1368" y="653" width="33" height="24" fill="#cc311e"/>
<rect x="1401" y="653" width="33" height="12" fill="#f6e0d8"/>
<rect x="1301" y="665" width="34" height="12" fill="#a7a2eb"/>
<rect x="1401" y="665" width="33" height="12" fill="#afaaec"/>
<rect x="1468" y="665" width="33" height="12" fill="#d8d4f2"/>
<rect x="1634" y="665" width="33" height="12" fill="#8c88e6"/>
<rect x="1301" y="677" width="34" height="12" fill="#7476e2"/>
<rect x="1501" y="677" width="33" height="12" fill="#d8d4f2"/>
<rect x="1534" y="677" width="33" height="12" fill="#f6e0d8"/>
<rect x="1634" y="677" width="33" height="12" fill="#ec9681"/>
<rect x="1301" y="689" width="34" height="12" fill="#f0e6e7"/>
<rect x="1235" y="701" width="33" height="24" fill="#a09cea"/>
<rect x="1401" y="701" width="33" height="24" fill="#7879e3"/>
<rect x="1368" y="725" width="33" height="11" fill="#a09cea"/>
<rect x="1634" y="725" width="33" height="23" fill="#8c88e6"/>
<rect x="1301" y="736" width="34" height="12" fill="#7476e2"/>
<rect x="1401" y="736" width="33" height="36" fill="#afaaec"/>
<rect x="1434" y="736" width="34" height="12" fill="#e06a54"/>
<rect x="1202" y="748" width="33" height="24" fill="#d8d4f2"/>
<rect x="1235" y="748" width="33" height="36" fill="#a09cea"/>
<rect x="1268" y="748" width="33" height="12" fill="#e06a54"/>
<rect x="1434" y="748" width="67" height="12" fill="#d8d4f2"/>
<rect x="1667" y="748" width="33.3" height="12" fill="#e9e6f1"/>
<rect x="1168.5" y="760" width="33.5" height="36" fill="#e06a54"/>
<rect x="1301" y="760" width="34" height="12" fill="#d0ccf1"/>
<rect x="1667" y="760" width="33.3" height="24" fill="#2050dc"/>
<rect x="1301" y="772" width="34" height="12" fill="#a7a2eb"/>
<rect x="1368" y="772" width="33" height="12" fill="#a09cea"/>
<rect x="1401" y="772" width="33" height="12" fill="#7879e3"/>
<rect x="1501" y="772" width="33" height="24" fill="#d8d4f2"/>
<rect x="1634" y="772" width="33" height="12" fill="#f6e0d8"/>
<rect x="1235" y="784" width="33" height="12" fill="#e9e6f1"/>
<rect x="1268" y="784" width="33" height="12" fill="#e06a54"/>
<rect x="1301" y="784" width="34" height="12" fill="#e98a74"/>
<rect x="1401" y="784" width="33" height="12" fill="#d8d4f2"/>
<rect x="1468" y="784" width="33" height="12" fill="#d8d4f2"/>
<rect x="1634" y="784" width="33" height="12" fill="#ccc8f0"/>
<rect x="1667" y="784" width="33.3" height="12" fill="#a09cea"/>
<rect x="1168.5" y="796" width="33.5" height="94" fill="#2050dc"/>
<rect x="1202" y="796" width="33" height="11" fill="#d8d4f2"/>
<rect x="1301" y="796" width="34" height="11" fill="#d0ccf1"/>
<rect x="1335" y="796" width="33" height="35" fill="#e06a54"/>
<rect x="1501" y="796" width="33" height="11" fill="#e06a54"/>
<rect x="1567" y="796" width="34" height="11" fill="#d8d4f2"/>
<rect x="1667" y="796" width="33.3" height="23" fill="#e9e6f1"/>
<rect x="1301" y="807" width="34" height="24" fill="#7476e2"/>
<rect x="1368" y="807" width="33" height="12" fill="#e9e6f1"/>
<rect x="1501" y="819" width="33" height="12" fill="#d8d4f2"/>
<rect x="1667" y="819" width="33.3" height="83" fill="#2050dc"/>
<rect x="1301" y="831" width="34" height="12" fill="#a7a2eb"/>
<rect x="1335" y="831" width="33" height="12" fill="#c00000"/>
<rect x="1301" y="843" width="34" height="12" fill="#c00000"/>
<rect x="1335" y="843" width="33" height="12" fill="#e06a54"/>
<rect x="1401" y="843" width="33" height="12" fill="#f0a693"/>
<rect x="1202" y="855" width="33" height="24" fill="#c00000"/>
<rect x="1301" y="855" width="34" height="12" fill="#7476e2"/>
<rect x="1468" y="855" width="33" height="24" fill="#d8d4f2"/>
<rect x="1534" y="855" width="33" height="24" fill="#f6e0d8"/>
<rect x="1634" y="855" width="33" height="12" fill="#ccc8f0"/>
<rect x="1235" y="867" width="33" height="12" fill="#ee9f8b"/>
<rect x="1301" y="867" width="34" height="12" fill="#a7a2eb"/>
<rect x="1368" y="867" width="33" height="12" fill="#e9e6f1"/>
<rect x="1401" y="867" width="33" height="12" fill="#7879e3"/>
<rect x="1634" y="867" width="33" height="12" fill="#8c88e6"/>
<rect x="1202" y="879" width="33" height="71" fill="#e06a54"/>
<rect x="1235" y="879" width="33" height="23" fill="#c00000"/>
<rect x="1301" y="879" width="34" height="11" fill="#c00000"/>
<rect x="1401" y="879" width="33" height="11" fill="#c71d11"/>
<rect x="1168.5" y="890" width="33.5" height="12" fill="#e06a54"/>
<rect x="1268" y="890" width="33" height="12" fill="#e06a54"/>
<rect x="1368" y="890" width="33" height="12" fill="#ee9f8b"/>
<rect x="1401" y="890" width="33" height="12" fill="#afaaec"/>
<rect x="1434" y="890" width="34" height="24" fill="#d8d4f2"/>
<rect x="1634" y="890" width="33" height="12" fill="#ec9681"/>
<rect x="1168.5" y="902" width="33.5" height="130" fill="#2050dc"/>
<rect x="1235" y="902" width="33" height="12" fill="#a09cea"/>
<rect x="1634" y="902" width="66.3" height="12" fill="#c00000"/>
<rect x="1235" y="914" width="33" height="12" fill="#c00000"/>
<rect x="1301" y="914" width="34" height="12" fill="#f0e6e7"/>
<rect x="1501" y="914" width="33" height="12" fill="#e06a54"/>
<rect x="1534" y="914" width="33" height="24" fill="#f6e0d8"/>
<rect x="1634" y="914" width="33" height="24" fill="#8c88e6"/>
<rect x="1667" y="914" width="33.3" height="36" fill="#c00000"/>
<rect x="1235" y="926" width="33" height="24" fill="#a09cea"/>
<rect x="1401" y="926" width="33" height="24" fill="#e06a54"/>
<rect x="1501" y="926" width="33" height="12" fill="#c00000"/>
<rect x="1335" y="938" width="33" height="12" fill="#e06a54"/>
<rect x="1368" y="938" width="33" height="12" fill="#cc311e"/>
<rect x="1501" y="938" width="33" height="12" fill="#d8d4f2"/>
<rect x="1202" y="950" width="33" height="23" fill="#d8d4f2"/>
<rect x="1268" y="950" width="33" height="11" fill="#e06a54"/>
<rect x="1301" y="950" width="34" height="11" fill="#7476e2"/>
<rect x="1401" y="950" width="33" height="11" fill="#7879e3"/>
<rect x="1468" y="950" width="66" height="11" fill="#c00000"/>
<rect x="1667" y="950" width="33.3" height="106" fill="#2050dc"/>
<rect x="1235" y="961" width="33" height="12" fill="#a09cea"/>
<rect x="1335" y="961" width="33" height="12" fill="#e06a54"/>
<rect x="1401" y="961" width="33" height="12" fill="#afaaec"/>
<rect x="1434" y="961" width="34" height="24" fill="#d8d4f2"/>
<rect x="1468" y="961" width="33" height="36" fill="#e06a54"/>
<rect x="1501" y="961" width="33" height="24" fill="#d8d4f2"/>
<rect x="1202" y="973" width="33" height="12" fill="#e06a54"/>
<rect x="1301" y="973" width="34" height="24" fill="#7476e2"/>
<rect x="1368" y="973" width="33" height="12" fill="#a09cea"/>
<rect x="1401" y="973" width="33" height="12" fill="#d8d4f2"/>
<rect x="1634" y="973" width="33" height="12" fill="#ccc8f0"/>
<rect x="1202" y="985" width="33" height="12" fill="#d8d4f2"/>
<rect x="1401" y="985" width="33" height="12" fill="#afaaec"/>
<rect x="1501" y="985" width="33" height="59" fill="#e06a54"/>
<rect x="1534" y="985" width="33" height="12" fill="#f6e0d8"/>
<rect x="1202" y="997" width="33" height="12" fill="#e06a54"/>
<rect x="1235" y="997" width="33" height="12" fill="#a09cea"/>
<rect x="1468" y="997" width="33" height="12" fill="#d8d4f2"/>
<rect x="1634" y="997" width="33" height="12" fill="#ccc8f0"/>
<rect x="1202" y="1009" width="33" height="12" fill="#c00000"/>
<rect x="1301" y="1009" width="34" height="12" fill="#a7a2eb"/>
<rect x="1202" y="1021" width="33" height="11" fill="#e06a54"/>
<rect x="1235" y="1021" width="33" height="11" fill="#a09cea"/>
<rect x="1401" y="1021" width="33" height="11" fill="#f0a693"/>
<rect x="1168.5" y="1032" width="33.5" height="12" fill="#e06a54"/>
<rect x="1202" y="1032" width="33" height="12" fill="#d8d4f2"/>
<rect x="1301" y="1032" width="34" height="12" fill="#7476e2"/>
<rect x="1401" y="1032" width="33" height="36" fill="#afaaec"/>
<rect x="1534" y="1032" width="33" height="12" fill="#f6e0d8"/>
<rect x="1634" y="1032" width="33" height="12" fill="#8c88e6"/>
<rect x="1168.5" y="1044" width="33.5" height="166" fill="#2050dc"/>
<rect x="1202" y="1044" width="33" height="12" fill="#c00000"/>
<rect x="1235" y="1044" width="33" height="24" fill="#ee9f8b"/>
<rect x="1301" y="1044" width="34" height="12" fill="#d6503a"/>
<rect x="1468" y="1044" width="33" height="12" fill="#c00000"/>
<rect x="1567" y="1044" width="34" height="12" fill="#d8d4f2"/>
<rect x="1634" y="1044" width="33" height="12" fill="#ccc8f0"/>
<rect x="1202" y="1056" width="33" height="24" fill="#e06a54"/>
<rect x="1301" y="1056" width="34" height="12" fill="#e98a74"/>
<rect x="1468" y="1056" width="66" height="24" fill="#d8d4f2"/>
<rect x="1667" y="1056" width="33.3" height="12" fill="#a09cea"/>
<rect x="1235" y="1068" width="33" height="12" fill="#c00000"/>
<rect x="1301" y="1068" width="34" height="12" fill="#f0e6e7"/>
<rect x="1368" y="1068" width="33" height="12" fill="#cc311e"/>
<rect x="1401" y="1068" width="33" height="12" fill="#f6e0d8"/>
<rect x="1434" y="1068" width="34" height="24" fill="#d8d4f2"/>
<rect x="1634" y="1068" width="33" height="12" fill="#d1402b"/>
<rect x="1667" y="1068" width="33.3" height="12" fill="#2050dc"/>
<rect x="1202" y="1080" width="33" height="12" fill="#d8d4f2"/>
<rect x="1235" y="1080" width="33" height="12" fill="#a09cea"/>
<rect x="1301" y="1080" width="34" height="12" fill="#a7a2eb"/>
<rect x="1368" y="1080" width="33" height="24" fill="#c00000"/>
<rect x="1401" y="1080" width="33" height="12" fill="#d8d4f2"/>
<rect x="1468" y="1080" width="33" height="12" fill="#c00000"/>
<rect x="1634" y="1080" width="33" height="12" fill="#8c88e6"/>
<rect x="1667" y="1080" width="33.3" height="12" fill="#a09cea"/>
<rect x="1401" y="1092" width="33" height="23" fill="#7879e3"/>
<rect x="1534" y="1092" width="33" height="12" fill="#c00000"/>
<rect x="1634" y="1092" width="33" height="12" fill="#ccc8f0"/>
<rect x="1667" y="1092" width="33.3" height="59" fill="#2050dc"/>
<rect x="1235" y="1104" width="33" height="11" fill="#e9e6f1"/>
<rect x="1301" y="1104" width="34" height="11" fill="#d0ccf1"/>
<rect x="1368" y="1104" width="33" height="11" fill="#ee9f8b"/>
<rect x="1468" y="1104" width="33" height="23" fill="#d8d4f2"/>
<rect x="1634" y="1104" width="33" height="11" fill="#8c88e6"/>
<rect x="1235" y="1115" width="33" height="12" fill="#a09cea"/>
<rect x="1301" y="1115" width="34" height="12" fill="#f4beb0"/>
<rect x="1401" y="1115" width="33" height="12" fill="#afaaec"/>
<rect x="1501" y="1115" width="33" height="12" fill="#d8d4f2"/>
<rect x="1567" y="1115" width="34" height="12" fill="#d8d4f2"/>
<rect x="1634" y="1115" width="33" height="12" fill="#ccc8f0"/>
<rect x="1301" y="1127" width="34" height="12" fill="#e98a74"/>
<rect x="1202" y="1139" width="33" height="24" fill="#d8d4f2"/>
<rect x="1301" y="1139" width="34" height="24" fill="#c00000"/>
<rect x="1368" y="1139" width="33" height="12" fill="#a09cea"/>
<rect x="1401" y="1139" width="33" height="12" fill="#7879e3"/>
<rect x="1434" y="1139" width="34" height="24" fill="#d8d4f2"/>
<rect x="1534" y="1139" width="33" height="12" fill="#f6e0d8"/>
<rect x="1634" y="1139" width="33" height="24" fill="#8c88e6"/>
<rect x="1235" y="1151" width="33" height="12" fill="#ee9f8b"/>
<rect x="1401" y="1151" width="33" height="12" fill="#afaaec"/>
<rect x="1501" y="1151" width="66" height="12" fill="#c00000"/>
<rect x="1667" y="1151" width="33.3" height="12" fill="#a09cea"/>
<rect x="1235" y="1163" width="33" height="12" fill="#a09cea"/>
<rect x="1268" y="1163" width="33" height="35" fill="#e06a54"/>
<rect x="1301" y="1163" width="34" height="12" fill="#e98a74"/>
<rect x="1368" y="1163" width="33" height="35" fill="#e9e6f1"/>
<rect x="1401" y="1163" width="33" height="12" fill="#e06a54"/>
<rect x="1468" y="1163" width="33" height="12" fill="#e06a54"/>
<rect x="1501" y="1163" width="33" height="12" fill="#d8d4f2"/>
<rect x="1534" y="1163" width="33" height="12" fill="#c00000"/>
<rect x="1667" y="1163" width="33.3" height="47" fill="#2050dc"/>
<rect x="1202" y="1175" width="33" height="23" fill="#d8d4f2"/>
<rect x="1235" y="1175" width="33" height="23" fill="#e9e6f1"/>
<rect x="1301" y="1175" width="34" height="23" fill="#d0ccf1"/>
<rect x="1401" y="1175" width="33" height="23" fill="#7879e3"/>
<rect x="1534" y="1175" width="33" height="23" fill="#f6e0d8"/>
<rect x="1567" y="1175" width="34" height="35" fill="#c00000"/>
<rect x="1202" y="1198" width="33" height="24" fill="#e06a54"/>
<rect x="1235" y="1198" width="33" height="12" fill="#a09cea"/>
<rect x="1401" y="1198" width="33" height="24" fill="#c00000"/>
<rect x="1434" y="1198" width="100" height="12" fill="#d8d4f2"/>
<rect x="1634" y="1198" width="33" height="12" fill="#f6e0d8"/>
<rect x="1168.5" y="1210" width="33.5" height="12" fill="#e06a54"/>
<rect x="1235" y="1210" width="33" height="12" fill="#e9e6f1"/>
<rect x="1268" y="1210" width="33" height="24" fill="#e06a54"/>
<rect x="1434" y="1210" width="34" height="12" fill="#c00000"/>
<rect x="1667" y="1210" width="33.3" height="12" fill="#e9e6f1"/>
<rect x="1168.5" y="1222" width="33.5" height="403" fill="#2050dc"/>
<rect x="1202" y="1222" width="33" height="12" fill="#c00000"/>
<rect x="1301" y="1222" width="34" height="12" fill="#7476e2"/>
<rect x="1401" y="1222" width="33" height="12" fill="#f0a693"/>
<rect x="1434" y="1222" width="34" height="12" fill="#e06a54"/>
<rect x="1468" y="1222" width="33" height="12" fill="#c00000"/>
<rect x="1501" y="1222" width="33" height="12" fill="#d8d4f2"/>
<rect x="1534" y="1222" width="33" height="12" fill="#c00000"/>
<rect x="1634" y="1222" width="33" height="12" fill="#ccc8f0"/>
<rect x="1667" y="1222" width="33.3" height="12" fill="#2050dc"/>
<rect x="1202" y="1234" width="33" height="12" fill="#d8d4f2"/>
<rect x="1368" y="1234" width="33" height="24" fill="#a09cea"/>
<rect x="1401" y="1234" width="33" height="12" fill="#e06a54"/>
<rect x="1434" y="1234" width="34" height="12" fill="#c00000"/>
<rect x="1468" y="1234" width="33" height="47" fill="#d8d4f2"/>
<rect x="1667" y="1234" width="33.3" height="12" fill="#e9e6f1"/>
<rect x="1301" y="1246" width="34" height="12" fill="#7476e2"/>
<rect x="1401" y="1246" width="33" height="12" fill="#f6e0d8"/>
<rect x="1434" y="1246" width="34" height="47" fill="#d8d4f2"/>
<rect x="1534" y="1246" width="33" height="12" fill="#f6e0d8"/>
<rect x="1634" y="1246" width="33" height="12" fill="#8c88e6"/>
<rect x="1667" y="1246" width="33.3" height="12" fill="#2050dc"/>
<rect x="1401" y="1258" width="33" height="11" fill="#f0a693"/>
<rect x="1667" y="1258" width="33.3" height="11" fill="#a09cea"/>
<rect x="1401" y="1269" width="33" height="12" fill="#afaaec"/>
<rect x="1667" y="1269" width="33.3" height="12" fill="#e9e6f1"/>
<rect x="1401" y="1281" width="33" height="12" fill="#d8d4f2"/>
<rect x="1468" y="1281" width="33" height="12" fill="#e06a54"/>
<rect x="1501" y="1281" width="33" height="12" fill="#d8d4f2"/>
<rect x="1567" y="1281" width="34" height="12" fill="#d8d4f2"/>
<rect x="1634" y="1281" width="33" height="24" fill="#8c88e6"/>
<rect x="1667" y="1281" width="33.3" height="166" fill="#2050dc"/>
<rect x="1202" y="1293" width="33" height="12" fill="#d8d4f2"/>
<rect x="1235" y="1293" width="33" height="12" fill="#a09cea"/>
<rect x="1401" y="1293" width="33" height="12" fill="#c00000"/>
<rect x="1401" y="1305" width="33" height="12" fill="#e06a54"/>
<rect x="1468" y="1305" width="33" height="12" fill="#d8d4f2"/>
<rect x="1301" y="1317" width="34" height="12" fill="#7476e2"/>
<rect x="1401" y="1317" width="33" height="12" fill="#c71d11"/>
<rect x="1401" y="1329" width="33" height="11" fill="#f0a693"/>
<rect x="1301" y="1340" width="34" height="12" fill="#a7a2eb"/>
<rect x="1401" y="1340" width="33" height="24" fill="#f6e0d8"/>
<rect x="1202" y="1352" width="33" height="12" fill="#d8d4f2"/>
<rect x="1301" y="1352" width="34" height="24" fill="#d0ccf1"/>
<rect x="1468" y="1352" width="33" height="12" fill="#d8d4f2"/>
<rect x="1335" y="1364" width="33" height="36" fill="#e06a54"/>
<rect x="1401" y="1364" width="33" height="12" fill="#afaaec"/>
<rect x="1401" y="1376" width="33" height="12" fill="#c71d11"/>
<rect x="1301" y="1388" width="34" height="12" fill="#7476e2"/>
<rect x="1368" y="1388" width="33" height="12" fill="#ee9f8b"/>
<rect x="1401" y="1388" width="33" height="12" fill="#e06a54"/>
<rect x="1534" y="1400" width="33" height="35" fill="#f6e0d8"/>
<rect x="1501" y="1423" width="33" height="24" fill="#d8d4f2"/>
<rect x="1468" y="1435" width="33" height="24" fill="#d8d4f2"/>
<rect x="1301" y="1447" width="34" height="24" fill="#7476e2"/>
<rect x="1368" y="1447" width="33" height="12" fill="#a09cea"/>
<rect x="1634" y="1447" width="33" height="12" fill="#8c88e6"/>
<rect x="1667" y="1447" width="33.3" height="24" fill="#a09cea"/>
<rect x="1667" y="1471" width="33.3" height="130" fill="#2050dc"/>
<rect x="1401" y="1542" width="33" height="12" fill="#f6e0d8"/>
<rect x="1434" y="1542" width="34" height="12" fill="#d8d4f2"/>
<rect x="1401" y="1554" width="33" height="23" fill="#d8d4f2"/>
<rect x="1401" y="1577" width="33" height="12" fill="#afaaec"/>
<rect x="1401" y="1589" width="33" height="12" fill="#7879e3"/>
<rect x="1301" y="1601" width="34" height="12" fill="#7476e2"/>
<rect x="1401" y="1601" width="33" height="12" fill="#d8d4f2"/>
<rect x="1501" y="1601" width="33" height="12" fill="#d8d4f2"/>
<rect x="1667" y="1601" width="33.3" height="12" fill="#a09cea"/>
<rect x="1202" y="1613" width="33" height="12" fill="#d8d4f2"/>
<rect x="1268" y="1613" width="33" height="24" fill="#e06a54"/>
<rect x="1401" y="1613" width="33" height="12" fill="#f6e0d8"/>
<rect x="1634" y="1613" width="33" height="12" fill="#8c88e6"/>
<rect x="1667" y="1613" width="33.3" height="47" fill="#2050dc"/>
<rect x="1168.5" y="1625" width="33.5" height="12" fill="#e06a54"/>
<rect x="1301" y="1625" width="34" height="12" fill="#a7a2eb"/>
<rect x="1567" y="1625" width="34" height="12" fill="#d8d4f2"/>
<rect x="1168.5" y="1637" width="33.5" height="94" fill="#2050dc"/>
<rect x="1202" y="1637" width="33" height="23" fill="#e06a54"/>
<rect x="1235" y="1637" width="33" height="23" fill="#a09cea"/>
<rect x="1301" y="1637" width="34" height="11" fill="#7476e2"/>
<rect x="1401" y="1637" width="33" height="11" fill="#afaaec"/>
<rect x="1534" y="1637" width="33" height="11" fill="#f6e0d8"/>
<rect x="1202" y="1660" width="33" height="24" fill="#d8d4f2"/>
<rect x="1301" y="1660" width="34" height="12" fill="#7476e2"/>
<rect x="1667" y="1660" width="33.3" height="12" fill="#a09cea"/>
<rect x="1401" y="1672" width="33" height="12" fill="#7879e3"/>
<rect x="1567" y="1672" width="34" height="12" fill="#d8d4f2"/>
<rect x="1667" y="1672" width="33.3" height="12" fill="#2050dc"/>
<rect x="1202" y="1684" width="33" height="24" fill="#e06a54"/>
<rect x="1301" y="1684" width="34" height="24" fill="#7476e2"/>
<rect x="1368" y="1684" width="33" height="12" fill="#e9e6f1"/>
<rect x="1401" y="1684" width="33" height="12" fill="#afaaec"/>
<rect x="1434" y="1684" width="34" height="12" fill="#d8d4f2"/>
<rect x="1634" y="1684" width="33" height="24" fill="#8c88e6"/>
<rect x="1667" y="1684" width="33.3" height="12" fill="#e9e6f1"/>
<rect x="1235" y="1696" width="33" height="12" fill="#a09cea"/>
<rect x="1434" y="1696" width="34" height="12" fill="#e06a54"/>
<rect x="1667" y="1696" width="33.3" height="12" fill="#2050dc"/>
<rect x="1202" y="1708" width="33" height="12" fill="#c00000"/>
<rect x="1235" y="1708" width="33" height="12" fill="#cc311e"/>
<rect x="1268" y="1708" width="33" height="12" fill="#e06a54"/>
<rect x="1368" y="1708" width="33" height="12" fill="#a09cea"/>
<rect x="1401" y="1708" width="67" height="12" fill="#d8d4f2"/>
<rect x="1667" y="1708" width="33.3" height="12" fill="#a09cea"/>
<rect x="1202" y="1720" width="33" height="23" fill="#e06a54"/>
<rect x="1235" y="1720" width="33" height="35" fill="#c00000"/>
<rect x="1301" y="1720" width="67" height="11" fill="#c00000"/>
<rect x="1368" y="1720" width="33" height="11" fill="#ee9f8b"/>
<rect x="1434" y="1720" width="34" height="11" fill="#e06a54"/>
<rect x="1567" y="1720" width="34" height="11" fill="#c00000"/>
<rect x="1667" y="1720" width="33.3" height="11" fill="#2050dc"/>
<rect x="1168.5" y="1731" width="33.5" height="12" fill="#e06a54"/>
<rect x="1301" y="1731" width="34" height="24" fill="#c00000"/>
<rect x="1335" y="1731" width="33" height="36" fill="#e06a54"/>
<rect x="1667" y="1731" width="33.3" height="24" fill="#e9e6f1"/>
<rect x="1168.5" y="1743" width="33.5" height="12" fill="#2050dc"/>
<rect x="1202" y="1743" width="33" height="12" fill="#d8d4f2"/>
<rect x="1268" y="1743" width="33" height="12" fill="#c00000"/>
<rect x="1368" y="1743" width="33" height="24" fill="#cc311e"/>
<rect x="1401" y="1743" width="33" height="24" fill="#7879e3"/>
<rect x="1434" y="1743" width="34" height="12" fill="#d8d4f2"/>
<rect x="1168.5" y="1755" width="66.5" height="12" fill="#c00000"/>
<rect x="1235" y="1755" width="33" height="12" fill="#cc311e"/>
<rect x="1468" y="1755" width="33" height="24" fill="#d8d4f2"/>
<rect x="1534" y="1755" width="33" height="12" fill="#f6e0d8"/>
<rect x="1667" y="1755" width="33.3" height="12" fill="#a09cea"/>
<rect x="1168.5" y="1767" width="66.5" height="12" fill="#e06a54"/>
<rect x="1235" y="1767" width="33" height="47" fill="#a09cea"/>
<rect x="1301" y="1767" width="34" height="24" fill="#f0e6e7"/>
<rect x="1335" y="1767" width="66" height="12" fill="#c00000"/>
<rect x="1401" y="1767" width="33" height="12" fill="#afaaec"/>
<rect x="1567" y="1767" width="34" height="12" fill="#c00000"/>
<rect x="1634" y="1767" width="33" height="12" fill="#8c88e6"/>
<rect x="1667" y="1767" width="33.3" height="12" fill="#c00000"/>
<rect x="1168.5" y="1779" width="33.5" height="94" fill="#2050dc"/>
<rect x="1202" y="1779" width="33" height="23" fill="#e06a54"/>
<rect x="1335" y="1779" width="33" height="47" fill="#c00000"/>
<rect x="1368" y="1779" width="33" height="12" fill="#cc311e"/>
<rect x="1667" y="1779" width="33.3" height="47" fill="#2050dc"/>
<rect x="1301" y="1791" width="34" height="11" fill="#d0ccf1"/>
<rect x="1368" y="1791" width="33" height="11" fill="#ee9f8b"/>
<rect x="1401" y="1791" width="33" height="11" fill="#7879e3"/>
<rect x="1534" y="1791" width="33" height="11" fill="#f6e0d8"/>
<rect x="1301" y="1802" width="34" height="12" fill="#a7a2eb"/>
<rect x="1468" y="1802" width="33" height="12" fill="#d8d4f2"/>
<rect x="1567" y="1802" width="34" height="12" fill="#d8d4f2"/>
<rect x="1202" y="1814" width="33" height="36" fill="#e06a54"/>
<rect x="1235" y="1814" width="33" height="12" fill="#e9e6f1"/>
<rect x="1268" y="1814" width="33" height="24" fill="#e06a54"/>
<rect x="1567" y="1814" width="34" height="12" fill="#e06a54"/>
<rect x="1301" y="1826" width="34" height="12" fill="#a7a2eb"/>
<rect x="1335" y="1826" width="33" height="36" fill="#e06a54"/>
<rect x="1401" y="1826" width="33" height="36" fill="#7879e3"/>
<rect x="1501" y="1826" width="33" height="12" fill="#e06a54"/>
<rect x="1567" y="1826" width="34" height="12" fill="#d8d4f2"/>
<rect x="1634" y="1826" width="33" height="24" fill="#8c88e6"/>
<rect x="1667" y="1826" width="33.3" height="12" fill="#a09cea"/>
<rect x="1235" y="1838" width="33" height="12" fill="#a09cea"/>
<rect x="1301" y="1838" width="34" height="12" fill="#7476e2"/>
<rect x="1501" y="1838" width="33" height="24" fill="#d8d4f2"/>
<rect x="1667" y="1838" width="33.3" height="118.4" fill="#2050dc"/>
<rect x="1202" y="1850" width="33" height="12" fill="#c00000"/>
<rect x="1235" y="1850" width="33" height="12" fill="#ee9f8b"/>
<rect x="1368" y="1850" width="33" height="12" fill="#a09cea"/>
<rect x="1202" y="1862" width="33" height="23" fill="#e06a54"/>
<rect x="1235" y="1862" width="33" height="11" fill="#c00000"/>
<rect x="1301" y="1862" width="34" height="11" fill="#7476e2"/>
<rect x="1335" y="1862" width="33" height="11" fill="#c00000"/>
<rect x="1401" y="1862" width="33" height="11" fill="#afaaec"/>
<rect x="1468" y="1862" width="33" height="11" fill="#d8d4f2"/>
<rect x="1501" y="1862" width="33" height="23" fill="#e06a54"/>
<rect x="1168.5" y="1873" width="33.5" height="12" fill="#e06a54"/>
<rect x="1235" y="1873" width="33" height="24" fill="#cc311e"/>
<rect x="1301" y="1873" width="34" height="12" fill="#f4beb0"/>
<rect x="1335" y="1873" width="33" height="12" fill="#e06a54"/>
<rect x="1168.5" y="1885" width="33.5" height="71.4" fill="#2050dc"/>
<rect x="1202" y="1885" width="33" height="12" fill="#d8d4f2"/>
<rect x="1301" y="1885" width="67" height="12" fill="#c00000"/>
<rect x="1368" y="1885" width="33" height="12" fill="#cc311e"/>
<rect x="1401" y="1885" width="33" height="12" fill="#7879e3"/>
<rect x="1468" y="1885" width="33" height="60" fill="#d8d4f2"/>
<rect x="1501" y="1885" width="33" height="12" fill="#c00000"/>
<rect x="1634" y="1885" width="33" height="12" fill="#ec9681"/>
<rect x="1202" y="1897" width="33" height="24" fill="#e06a54"/>
<rect x="1235" y="1897" width="33" height="12" fill="#e9e6f1"/>
<rect x="1301" y="1897" width="34" height="12" fill="#f0e6e7"/>
<rect x="1335" y="1897" width="99" height="36" fill="#c00000"/>
<rect x="1235" y="1909" width="33" height="12" fill="#a09cea"/>
<rect x="1301" y="1909" width="34" height="12" fill="#d0ccf1"/>
<rect x="1634" y="1909" width="33" height="12" fill="#f6e0d8"/>
<rect x="1301" y="1921" width="34" height="12" fill="#c00000"/>
<rect x="1501" y="1921" width="33" height="24" fill="#d8d4f2"/>
<rect x="1534" y="1921" width="33" height="12" fill="#f6e0d8"/>
<rect x="1601" y="1921" width="33" height="35.4" fill="#c00000"/>
<rect x="1634" y="1921" width="33" height="12" fill="#ccc8f0"/>
<rect x="1202" y="1933" width="33" height="23.4" fill="#e06a54"/>
<rect x="1235" y="1933" width="33" height="12" fill="#e9e6f1"/>
<rect x="1268" y="1933" width="33" height="12" fill="#e06a54"/>
<rect x="1301" y="1933" width="34" height="12" fill="#f4beb0"/>
<rect x="1335" y="1933" width="66" height="23.4" fill="#c00000"/>
<rect x="1401" y="1933" width="33" height="12" fill="#e06a54"/>
<rect x="1534" y="1933" width="67" height="12" fill="#c00000"/>
<rect x="1235" y="1945" width="33" height="11.4" fill="#ee9f8b"/>
<rect x="1268" y="1945" width="33" height="11.4" fill="#c00000"/>
<rect x="1301" y="1945" width="34" height="11.4" fill="#e98a74"/>
<rect x="1401" y="1945" width="200" height="11.4" fill="#2050dc"/>
<rect x="1634" y="1945" width="33" height="11.4" fill="#2050dc"/>
</g>
<g font-size="8.7" fill="#000" stroke="#000" stroke-width="0.15">
<text x="805.6" y="544.02">16</text>
<text x="805.6" y="555.87">45</text>
<text x="805.6" y="567.71">46</text>
<text x="805.6" y="579.56">6</text>
<text x="805.6" y="591.4">5</text>
<text x="805.6" y="603.25">209</text>
<text x="805.6" y="615.09">85</text>
<text x="805.6" y="626.94">177</text>
<text x="805.6" y="638.78">153</text>
<text x="805.6" y="650.63">82</text>
<text x="805.6" y="662.47">62</text>
<text x="805.6" y="674.32">13</text>
<text x="805.6" y="686.16">68</text>
<text x="805.6" y="698.01">155</text>
<text x="805.6" y="709.85">107</text>
<text x="805.6" y="721.7">10</text>
<text x="805.6" y="733.54">166</text>
<text x="805.6" y="745.39">139</text>
<text x="805.6" y="757.23">94</text>
<text x="805.6" y="769.08">119</text>
<text x="805.6" y="780.92">90</text>
<text x="805.6" y="792.77">124</text>
<text x="805.6" y="804.61">79</text>
<text x="805.6" y="816.46">148</text>
<text x="805.6" y="828.3">140</text>
<text x="805.6" y="840.15">80</text>
<text x="805.6" y="851.99">80</text>
<text x="805.6" y="863.84">64</text>
<text x="805.6" y="875.68">174</text>
<text x="805.6" y="887.53">173</text>
<text x="805.6" y="899.37">151</text>
<text x="805.6" y="911.22">24</text>
<text x="805.6" y="923.06">7</text>
<text x="805.6" y="934.91">129</text>
<text x="805.6" y="946.75">191</text>
<text x="805.6" y="958.6">93</text>
<text x="805.6" y="970.44">181</text>
<text x="805.6" y="982.29">162</text>
<text x="805.6" y="994.13">146</text>
<text x="805.6" y="1005.98">199</text>
<text x="805.6" y="1017.82">105</text>
<text x="805.6" y="1029.67">147</text>
<text x="805.6" y="1041.51">34</text>
<text x="805.6" y="1053.36">157</text>
<text x="805.6" y="1065.2">96</text>
<text x="805.6" y="1077.05">141</text>
<text x="805.6" y="1088.89">137</text>
<text x="805.6" y="1100.74">159</text>
<text x="805.6" y="1112.58">101</text>
<text x="805.6" y="1124.43">63</text>
<text x="805.6" y="1136.27">135</text>
<text x="805.6" y="1148.12">56</text>
<text x="805.6" y="1159.96">110</text>
<text x="805.6" y="1171.81">142</text>
<text x="805.6" y="1183.65">210</text>
<text x="805.6" y="1195.5">138</text>
<text x="805.6" y="1207.34">158</text>
<text x="805.6" y="1219.19">81</text>
<text x="805.6" y="1231.03">120</text>
<text x="805.6" y="1242.88">118</text>
<text x="805.6" y="1254.72">104</text>
<text x="805.6" y="1266.57">133</text>
<text x="805.6" y="1278.41">180</text>
<text x="805.6" y="1290.26">15</text>
<text x="805.6" y="1302.1">69</text>
<text x="805.6" y="1313.95">100</text>
<text x="805.6" y="1325.79">164</text>
<text x="805.6" y="1337.64">171</text>
<text x="805.6" y="1349.48">97</text>
<text x="805.6" y="1361.33">136</text>
<text x="805.6" y="1373.17">132</text>
<text x="805.6" y="1385.02">61</text>
<text x="805.6" y="1396.86">92</text>
<text x="805.6" y="1408.71">83</text>
<text x="805.6" y="1420.55">73</text>
<text x="805.6" y="1432.4">14</text>
<text x="805.6" y="1444.24">86</text>
<text x="805.6" y="1456.09">144</text>
<text x="805.6" y="1467.93">73</text>
<text x="805.6" y="1479.78">117</text>
<text x="805.6" y="1491.62">113</text>
<text x="805.6" y="1503.47">172</text>
<text x="805.6" y="1515.31">170</text>
<text x="805.6" y="1527.16">52</text>
<text x="805.6" y="1539">168</text>
<text x="805.6" y="1550.85">98</text>
<text x="805.6" y="1562.69">163</text>
<text x="805.6" y="1574.54">55</text>
<text x="805.6" y="1586.38">150</text>
<text x="805.6" y="1598.23">115</text>
<text x="805.6" y="1610.07">156</text>
<text x="805.6" y="1621.92">102</text>
<text x="805.6" y="1633.76">41</text>
<text x="805.6" y="1645.61">112</text>
<text x="805.6" y="1657.45">213</text>
<text x="805.6" y="1669.3">194</text>
<text x="805.6" y="1681.14">154</text>
<text x="805.6" y="1692.99">108</text>
<text x="805.6" y="1704.83">128</text>
<text x="805.6" y="1716.68">130</text>
<text x="805.6" y="1728.52">47</text>
<text x="805.6" y="1740.37">42</text>
<text x="805.6" y="1752.21">4</text>
<text x="805.6" y="1764.06">54</text>
<text x="805.6" y="1775.9">20</text>
<text x="805.6" y="1787.75">19</text>
<text x="805.6" y="1799.59">76</text>
<text x="805.6" y="1811.44">204</text>
<text x="805.6" y="1823.28">8</text>
<text x="805.6" y="1835.13">11</text>
<text x="805.6" y="1846.97">27</text>
<text x="805.6" y="1858.82">3</text>
<text x="805.6" y="1870.66">57</text>
<text x="805.6" y="1882.51">143</text>
<text x="805.6" y="1894.35">192</text>
<text x="805.6" y="1906.2">183</text>
<text x="805.6" y="1918.04">2</text>
<text x="805.6" y="1929.89">103</text>
<text x="805.6" y="1941.73">53</text>
<text x="805.6" y="1953.58">50</text>
</g>
<g font-size="8.7" fill="#000" stroke="#000" stroke-width="0.15">
<text x="1733.6" y="544.02">194</text>
<text x="1733.6" y="555.87">147</text>
<text x="1733.6" y="567.71">34</text>
<text x="1733.6" y="579.56">191</text>
<text x="1733.6" y="591.4">209</text>
<text x="1733.6" y="603.25">129</text>
<text x="1733.6" y="615.09">76</text>
<text x="1733.6" y="626.94">42</text>
<text x="1733.6" y="638.78">54</text>
<text x="1733.6" y="650.63">108</text>
<text x="1733.6" y="662.47">94</text>
<text x="1733.6" y="674.32">119</text>
<text x="1733.6" y="686.16">41</text>
<text x="1733.6" y="698.01">68</text>
<text x="1733.6" y="709.85">164</text>
<text x="1733.6" y="721.7">171</text>
<text x="1733.6" y="733.54">120</text>
<text x="1733.6" y="745.39">142</text>
<text x="1733.6" y="757.23">138</text>
<text x="1733.6" y="769.08">155</text>
<text x="1733.6" y="780.92">102</text>
<text x="1733.6" y="792.77">85</text>
<text x="1733.6" y="804.61">156</text>
<text x="1733.6" y="816.46">81</text>
<text x="1733.6" y="828.3">69</text>
<text x="1733.6" y="840.15">15</text>
<text x="1733.6" y="851.99">57</text>
<text x="1733.6" y="863.84">163</text>
<text x="1733.6" y="875.68">140</text>
<text x="1733.6" y="887.53">19</text>
<text x="1733.6" y="899.37">24</text>
<text x="1733.6" y="911.22">16</text>
<text x="1733.6" y="923.06">45</text>
<text x="1733.6" y="934.91">5</text>
<text x="1733.6" y="946.75">6</text>
<text x="1733.6" y="958.6">93</text>
<text x="1733.6" y="970.44">146</text>
<text x="1733.6" y="982.29">105</text>
<text x="1733.6" y="994.13">162</text>
<text x="1733.6" y="1005.98">55</text>
<text x="1733.6" y="1017.82">150</text>
<text x="1733.6" y="1029.67">157</text>
<text x="1733.6" y="1041.51">181</text>
<text x="1733.6" y="1053.36">153</text>
<text x="1733.6" y="1065.2">82</text>
<text x="1733.6" y="1077.05">7</text>
<text x="1733.6" y="1088.89">90</text>
<text x="1733.6" y="1100.74">139</text>
<text x="1733.6" y="1112.58">148</text>
<text x="1733.6" y="1124.43">177</text>
<text x="1733.6" y="1136.27">13</text>
<text x="1733.6" y="1148.12">143</text>
<text x="1733.6" y="1159.96">192</text>
<text x="1733.6" y="1171.81">204</text>
<text x="1733.6" y="1183.65">80</text>
<text x="1733.6" y="1195.5">80</text>
<text x="1733.6" y="1207.34">4</text>
<text x="1733.6" y="1219.19">20</text>
<text x="1733.6" y="1231.03">112</text>
<text x="1733.6" y="1242.88">213</text>
<text x="1733.6" y="1254.72">110</text>
<text x="1733.6" y="1266.57">101</text>
<text x="1733.6" y="1278.41">210</text>
<text x="1733.6" y="1290.26">199</text>
<text x="1733.6" y="1302.1">47</text>
<text x="1733.6" y="1313.95">63</text>
<text x="1733.6" y="1325.79">128</text>
<text x="1733.6" y="1337.64">135</text>
<text x="1733.6" y="1349.48">10</text>
<text x="1733.6" y="1361.33">166</text>
<text x="1733.6" y="1373.17">107</text>
<text x="1733.6" y="1385.02">130</text>
<text x="1733.6" y="1396.86">154</text>
<text x="1733.6" y="1408.71">73</text>
<text x="1733.6" y="1420.55">117</text>
<text x="1733.6" y="1432.4">113</text>
<text x="1733.6" y="1444.24">61</text>
<text x="1733.6" y="1456.09">118</text>
<text x="1733.6" y="1467.93">104</text>
<text x="1733.6" y="1479.78">92</text>
<text x="1733.6" y="1491.62">83</text>
<text x="1733.6" y="1503.47">73</text>
<text x="1733.6" y="1515.31">14</text>
<text x="1733.6" y="1527.16">86</text>
<text x="1733.6" y="1539">144</text>
<text x="1733.6" y="1550.85">56</text>
<text x="1733.6" y="1562.69">137</text>
<text x="1733.6" y="1574.54">141</text>
<text x="1733.6" y="1586.38">97</text>
<text x="1733.6" y="1598.23">136</text>
<text x="1733.6" y="1610.07">96</text>
<text x="1733.6" y="1621.92">159</text>
<text x="1733.6" y="1633.76">100</text>
<text x="1733.6" y="1645.61">170</text>
<text x="1733.6" y="1657.45">168</text>
<text x="1733.6" y="1669.3">133</text>
<text x="1733.6" y="1681.14">132</text>
<text x="1733.6" y="1692.99">158</text>
<text x="1733.6" y="1704.83">98</text>
<text x="1733.6" y="1716.68">173</text>
<text x="1733.6" y="1728.52">50</text>
<text x="1733.6" y="1740.37">53</text>
<text x="1733.6" y="1752.21">103</text>
<text x="1733.6" y="1764.06">151</text>
<text x="1733.6" y="1775.9">46</text>
<text x="1733.6" y="1787.75">124</text>
<text x="1733.6" y="1799.59">79</text>
<text x="1733.6" y="1811.44">180</text>
<text x="1733.6" y="1823.28">172</text>
<text x="1733.6" y="1835.13">115</text>
<text x="1733.6" y="1846.97">52</text>
<text x="1733.6" y="1858.82">174</text>
<text x="1733.6" y="1870.66">64</text>
<text x="1733.6" y="1882.51">62</text>
<text x="1733.6" y="1894.35">183</text>
<text x="1733.6" y="1906.2">27</text>
<text x="1733.6" y="1918.04">11</text>
<text x="1733.6" y="1929.89">3</text>
<text x="1733.6" y="1941.73">8</text>
<text x="1733.6" y="1953.58">2</text>
</g>
</svg>
</body>
</html>
